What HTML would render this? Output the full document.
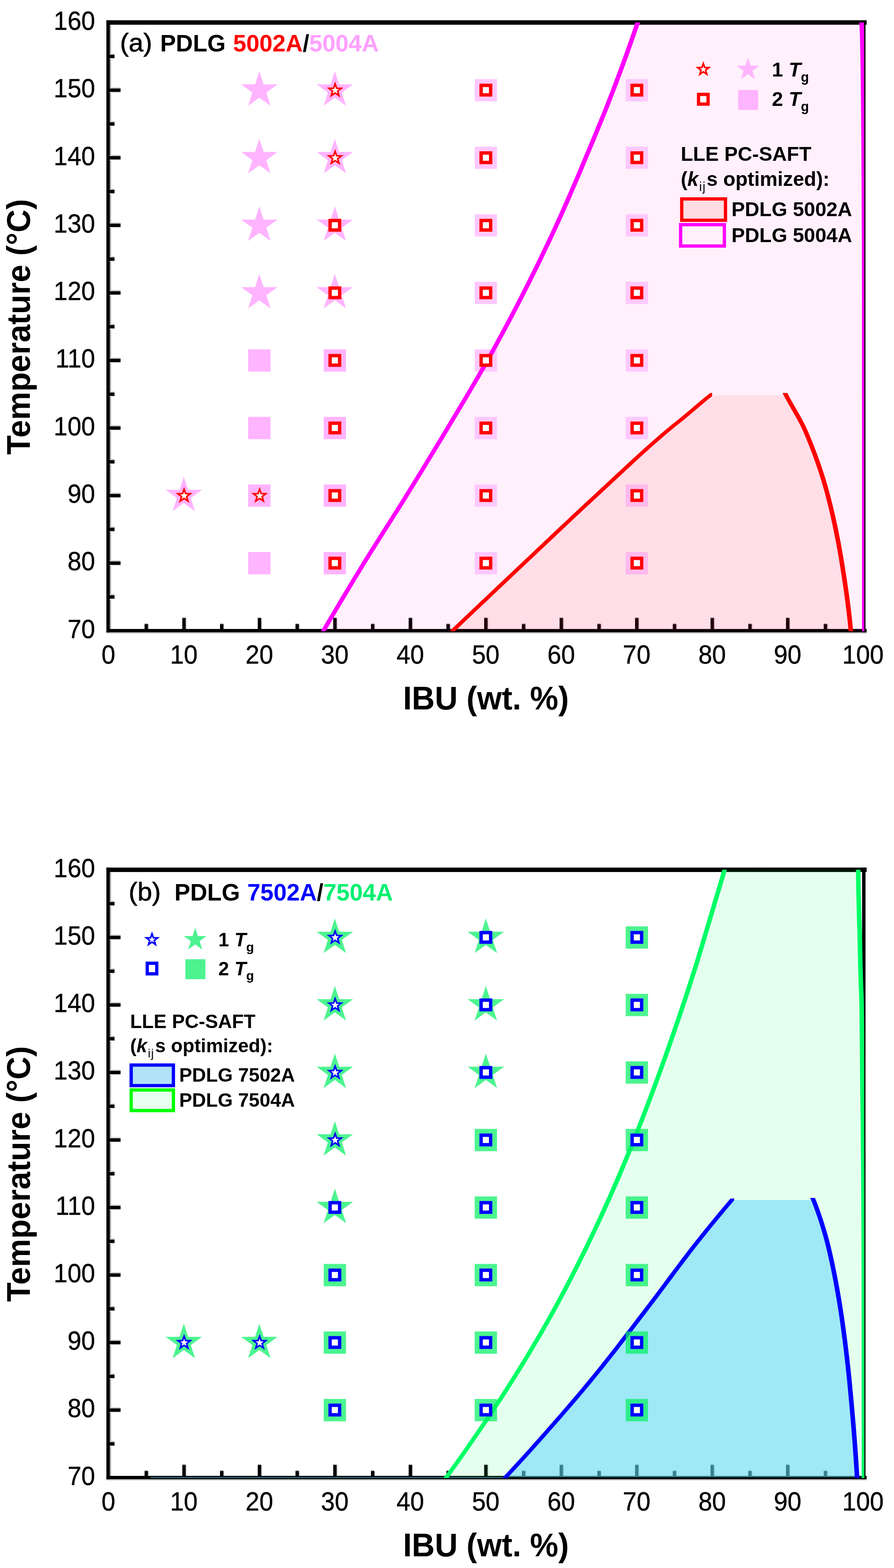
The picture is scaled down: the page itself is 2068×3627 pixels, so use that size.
<!DOCTYPE html>
<html lang="en"><head><meta charset="utf-8"><title>LLE phase diagrams IBU / PDLG</title>
<style>
html,body{margin:0;padding:0;background:#fff}
svg{display:block}
text{white-space:pre}
</style></head>
<body>
<svg xmlns="http://www.w3.org/2000/svg" width="2068" height="3627" viewBox="0 0 2068 3627">
<defs><filter id="soft" x="0" y="0" width="100%" height="100%" filterUnits="userSpaceOnUse" color-interpolation-filters="sRGB"><feGaussianBlur stdDeviation="0.7"/></filter></defs>
<rect width="2068" height="3627" fill="#fff"/>
<g filter="url(#soft)">
<rect width="2068" height="3627" fill="#fff"/>
<g id="plot-a">
<g fill="#000">
<rect x="253.9" y="57.2" width="2.9" height="1397.7" fill="#a4a4a4"/>
<rect x="246.1" y="1462.7" width="1758.6" height="3" fill="#cdcdcd"/>
<rect x="2002" y="57.2" width="2.7" height="1397.7" fill="#ececec"/>
<rect x="253.9" y="1374.16" width="11" height="2.8" fill="#cacaca"/>
<rect x="253.9" y="1384.76" width="11" height="2.5" fill="#ededed"/>
<rect x="252.9" y="1376.91" width="12" height="7.9"/>
<rect x="253.9" y="1296.01" width="24.95" height="2.8" fill="#cacaca"/>
<rect x="253.9" y="1306.61" width="24.95" height="2.5" fill="#ededed"/>
<rect x="252.9" y="1298.76" width="25.95" height="7.9"/>
<rect x="253.9" y="1217.87" width="11" height="2.8" fill="#cacaca"/>
<rect x="253.9" y="1228.47" width="11" height="2.5" fill="#ededed"/>
<rect x="252.9" y="1220.62" width="12" height="7.9"/>
<rect x="253.9" y="1139.72" width="24.95" height="2.8" fill="#cacaca"/>
<rect x="253.9" y="1150.32" width="24.95" height="2.5" fill="#ededed"/>
<rect x="252.9" y="1142.47" width="25.95" height="7.9"/>
<rect x="253.9" y="1061.58" width="11" height="2.8" fill="#cacaca"/>
<rect x="253.9" y="1072.18" width="11" height="2.5" fill="#ededed"/>
<rect x="252.9" y="1064.33" width="12" height="7.9"/>
<rect x="253.9" y="983.43" width="24.95" height="2.8" fill="#cacaca"/>
<rect x="253.9" y="994.03" width="24.95" height="2.5" fill="#ededed"/>
<rect x="252.9" y="986.18" width="25.95" height="7.9"/>
<rect x="253.9" y="905.29" width="11" height="2.8" fill="#cacaca"/>
<rect x="253.9" y="915.89" width="11" height="2.5" fill="#ededed"/>
<rect x="252.9" y="908.04" width="12" height="7.9"/>
<rect x="253.9" y="827.14" width="24.95" height="2.8" fill="#cacaca"/>
<rect x="253.9" y="837.74" width="24.95" height="2.5" fill="#ededed"/>
<rect x="252.9" y="829.89" width="25.95" height="7.9"/>
<rect x="253.9" y="749" width="11" height="2.8" fill="#cacaca"/>
<rect x="253.9" y="759.6" width="11" height="2.5" fill="#ededed"/>
<rect x="252.9" y="751.75" width="12" height="7.9"/>
<rect x="253.9" y="670.86" width="24.95" height="2.8" fill="#cacaca"/>
<rect x="253.9" y="681.46" width="24.95" height="2.5" fill="#ededed"/>
<rect x="252.9" y="673.61" width="25.95" height="7.9"/>
<rect x="253.9" y="592.71" width="11" height="2.8" fill="#cacaca"/>
<rect x="253.9" y="603.31" width="11" height="2.5" fill="#ededed"/>
<rect x="252.9" y="595.46" width="12" height="7.9"/>
<rect x="253.9" y="514.57" width="24.95" height="2.8" fill="#cacaca"/>
<rect x="253.9" y="525.17" width="24.95" height="2.5" fill="#ededed"/>
<rect x="252.9" y="517.32" width="25.95" height="7.9"/>
<rect x="253.9" y="436.42" width="11" height="2.8" fill="#cacaca"/>
<rect x="253.9" y="447.02" width="11" height="2.5" fill="#ededed"/>
<rect x="252.9" y="439.17" width="12" height="7.9"/>
<rect x="253.9" y="358.28" width="24.95" height="2.8" fill="#cacaca"/>
<rect x="253.9" y="368.88" width="24.95" height="2.5" fill="#ededed"/>
<rect x="252.9" y="361.03" width="25.95" height="7.9"/>
<rect x="253.9" y="280.13" width="11" height="2.8" fill="#cacaca"/>
<rect x="253.9" y="290.73" width="11" height="2.5" fill="#ededed"/>
<rect x="252.9" y="282.88" width="12" height="7.9"/>
<rect x="253.9" y="201.99" width="24.95" height="2.8" fill="#cacaca"/>
<rect x="253.9" y="212.59" width="24.95" height="2.5" fill="#ededed"/>
<rect x="252.9" y="204.74" width="25.95" height="7.9"/>
<rect x="253.9" y="123.84" width="11" height="2.8" fill="#cacaca"/>
<rect x="253.9" y="134.44" width="11" height="2.5" fill="#ededed"/>
<rect x="252.9" y="126.59" width="12" height="7.9"/>
<rect x="334.38" y="1442.3" width="7.9" height="1.6" fill="#8a8a8a"/>
<rect x="342.28" y="1443.9" width="1.9" height="11" fill="#c4c4c4"/>
<rect x="334.38" y="1443.9" width="7.9" height="12"/>
<rect x="421.66" y="1428.3" width="7.9" height="1.6" fill="#8a8a8a"/>
<rect x="429.56" y="1429.9" width="1.9" height="25" fill="#c4c4c4"/>
<rect x="421.66" y="1429.9" width="7.9" height="26"/>
<rect x="508.94" y="1442.3" width="7.9" height="1.6" fill="#8a8a8a"/>
<rect x="516.84" y="1443.9" width="1.9" height="11" fill="#c4c4c4"/>
<rect x="508.94" y="1443.9" width="7.9" height="12"/>
<rect x="596.22" y="1428.3" width="7.9" height="1.6" fill="#8a8a8a"/>
<rect x="604.12" y="1429.9" width="1.9" height="25" fill="#c4c4c4"/>
<rect x="596.22" y="1429.9" width="7.9" height="26"/>
<rect x="683.5" y="1442.3" width="7.9" height="1.6" fill="#8a8a8a"/>
<rect x="691.4" y="1443.9" width="1.9" height="11" fill="#c4c4c4"/>
<rect x="683.5" y="1443.9" width="7.9" height="12"/>
<rect x="770.78" y="1428.3" width="7.9" height="1.6" fill="#8a8a8a"/>
<rect x="778.68" y="1429.9" width="1.9" height="25" fill="#c4c4c4"/>
<rect x="770.78" y="1429.9" width="7.9" height="26"/>
<rect x="858.06" y="1442.3" width="7.9" height="1.6" fill="#8a8a8a"/>
<rect x="865.96" y="1443.9" width="1.9" height="11" fill="#c4c4c4"/>
<rect x="858.06" y="1443.9" width="7.9" height="12"/>
<rect x="945.34" y="1428.3" width="7.9" height="1.6" fill="#8a8a8a"/>
<rect x="953.24" y="1429.9" width="1.9" height="25" fill="#c4c4c4"/>
<rect x="945.34" y="1429.9" width="7.9" height="26"/>
<rect x="1032.62" y="1442.3" width="7.9" height="1.6" fill="#8a8a8a"/>
<rect x="1040.52" y="1443.9" width="1.9" height="11" fill="#c4c4c4"/>
<rect x="1032.62" y="1443.9" width="7.9" height="12"/>
<rect x="1119.9" y="1428.3" width="7.9" height="1.6" fill="#8a8a8a"/>
<rect x="1127.8" y="1429.9" width="1.9" height="25" fill="#c4c4c4"/>
<rect x="1119.9" y="1429.9" width="7.9" height="26"/>
<rect x="1207.18" y="1442.3" width="7.9" height="1.6" fill="#8a8a8a"/>
<rect x="1215.08" y="1443.9" width="1.9" height="11" fill="#c4c4c4"/>
<rect x="1207.18" y="1443.9" width="7.9" height="12"/>
<rect x="1294.46" y="1428.3" width="7.9" height="1.6" fill="#8a8a8a"/>
<rect x="1302.36" y="1429.9" width="1.9" height="25" fill="#c4c4c4"/>
<rect x="1294.46" y="1429.9" width="7.9" height="26"/>
<rect x="1381.74" y="1442.3" width="7.9" height="1.6" fill="#8a8a8a"/>
<rect x="1389.64" y="1443.9" width="1.9" height="11" fill="#c4c4c4"/>
<rect x="1381.74" y="1443.9" width="7.9" height="12"/>
<rect x="1469.02" y="1428.3" width="7.9" height="1.6" fill="#8a8a8a"/>
<rect x="1476.92" y="1429.9" width="1.9" height="25" fill="#c4c4c4"/>
<rect x="1469.02" y="1429.9" width="7.9" height="26"/>
<rect x="1556.3" y="1442.3" width="7.9" height="1.6" fill="#8a8a8a"/>
<rect x="1564.2" y="1443.9" width="1.9" height="11" fill="#c4c4c4"/>
<rect x="1556.3" y="1443.9" width="7.9" height="12"/>
<rect x="1643.58" y="1428.3" width="7.9" height="1.6" fill="#8a8a8a"/>
<rect x="1651.48" y="1429.9" width="1.9" height="25" fill="#c4c4c4"/>
<rect x="1643.58" y="1429.9" width="7.9" height="26"/>
<rect x="1730.86" y="1442.3" width="7.9" height="1.6" fill="#8a8a8a"/>
<rect x="1738.76" y="1443.9" width="1.9" height="11" fill="#c4c4c4"/>
<rect x="1730.86" y="1443.9" width="7.9" height="12"/>
<rect x="1818.14" y="1428.3" width="7.9" height="1.6" fill="#8a8a8a"/>
<rect x="1826.04" y="1429.9" width="1.9" height="25" fill="#c4c4c4"/>
<rect x="1818.14" y="1429.9" width="7.9" height="26"/>
<rect x="1905.42" y="1442.3" width="7.9" height="1.6" fill="#8a8a8a"/>
<rect x="1913.32" y="1443.9" width="1.9" height="11" fill="#c4c4c4"/>
<rect x="1905.42" y="1443.9" width="7.9" height="12"/>
<rect x="246.1" y="46.9" width="7.8" height="1415.8"/>
<rect x="1994.2" y="46.9" width="7.8" height="1415.8"/>
<rect x="246.1" y="46.9" width="1758.6" height="10.3"/>
<rect x="246.1" y="1454.9" width="1758.6" height="7.8"/>
</g>
<clipPath id="clipa"><rect x="251.6" y="51.9" width="1747.6" height="1408.3"/></clipPath>
<g clip-path="url(#clipa)">
<path d="M748.3 1457.5L758.7 1441.19L769.17 1423.39L779.7 1405.58L790.3 1387.77L800.95 1369.97L811.68 1352.16L822.46 1334.36L833.31 1316.55L844.22 1298.74L855.26 1280.94L866.42 1263.13L877.68 1245.32L888.99 1227.52L900.32 1209.71L911.63 1191.91L922.89 1174.1L934.05 1156.29L945.1 1138.49L956.09 1120.68L967.04 1102.87L977.95 1085.07L988.82 1067.26L999.65 1049.45L1010.44 1031.65L1021.18 1013.84L1031.88 996.04L1042.56 978.23L1053.24 960.42L1063.92 942.62L1074.56 924.81L1085.15 907L1095.65 889.2L1106.04 871.39L1116.29 853.58L1126.39 835.78L1136.34 817.97L1146.18 800.17L1155.92 782.36L1165.56 764.55L1175.09 746.75L1184.52 728.94L1193.84 711.13L1203.06 693.33L1212.16 675.52L1221.17 657.72L1230.09 639.91L1238.92 622.1L1247.65 604.3L1256.28 586.49L1264.81 568.68L1273.23 550.88L1281.53 533.07L1289.71 515.26L1297.77 497.46L1305.71 479.65L1313.55 461.85L1321.29 444.04L1328.96 426.23L1336.56 408.43L1344.11 390.62L1351.61 372.81L1359.1 355.01L1366.56 337.2L1373.98 319.39L1381.36 301.59L1388.67 283.78L1395.9 265.98L1403.04 248.17L1410.07 230.36L1416.98 212.56L1423.78 194.75L1430.49 176.94L1437.11 159.14L1443.65 141.33L1450.11 123.53L1456.47 105.72L1462.74 87.91L1468.92 70.11L1475 52.3L1993.1 52L1993.97 69.81L1994.61 87.62L1994.99 105.43L1995.34 123.24L1995.66 141.05L1995.94 158.86L1996.2 176.67L1996.43 194.48L1996.65 212.29L1996.84 230.1L1997.02 247.91L1997.18 265.72L1997.32 283.53L1997.46 301.34L1997.59 319.15L1997.71 336.96L1997.82 354.77L1997.94 372.58L1998.05 390.39L1998.16 408.2L1998.26 426.01L1998.35 443.82L1998.45 461.63L1998.53 479.44L1998.61 497.25L1998.68 515.06L1998.74 532.87L1998.8 550.68L1998.84 568.49L1998.88 586.3L1998.91 604.11L1998.93 621.92L1998.95 639.73L1998.97 657.54L1998.99 675.35L1999.01 693.16L1999.03 710.97L1999.04 728.78L1999.06 746.59L1999.07 764.41L1999.09 782.22L1999.1 800.03L1999.11 817.84L1999.12 835.65L1999.13 853.46L1999.14 871.27L1999.15 889.08L1999.16 906.89L1999.17 924.7L1999.18 942.51L1999.19 960.32L1999.19 978.13L1999.2 995.94L1999.2 1013.75L1999.21 1031.56L1999.22 1049.37L1999.22 1067.18L1999.23 1084.99L1999.23 1102.8L1999.24 1120.61L1999.24 1138.42L1999.25 1156.23L1999.26 1174.04L1999.26 1191.85L1999.26 1209.66L1999.27 1227.47L1999.27 1245.28L1999.28 1263.09L1999.28 1280.9L1999.28 1298.71L1999.29 1316.52L1999.29 1334.33L1999.29 1352.14L1999.29 1369.95L1999.3 1387.76L1999.3 1405.57L1999.3 1423.38L1999.3 1441.19L1999.3 1457.5Z" fill="rgba(255,0,190,0.06)"/>
<polygon points="425.26,1102.52 435.18,1133.06 467.3,1133.06 441.32,1151.94 451.24,1182.48 425.26,1163.61 399.28,1182.48 409.2,1151.94 383.22,1133.06 415.34,1133.06" fill="#ffb4ff"/>
<polygon points="599.92,164.79 609.84,195.33 641.96,195.33 615.98,214.21 625.9,244.75 599.92,225.87 573.94,244.75 583.86,214.21 557.88,195.33 590,195.33" fill="#ffb4ff"/>
<polygon points="599.92,321.08 609.84,351.62 641.96,351.62 615.98,370.5 625.9,401.04 599.92,382.16 573.94,401.04 583.86,370.5 557.88,351.62 590,351.62" fill="#ffb4ff"/>
<polygon points="599.92,477.37 609.84,507.91 641.96,507.91 615.98,526.78 625.9,557.33 599.92,538.45 573.94,557.33 583.86,526.78 557.88,507.91 590,507.91" fill="#ffb4ff"/>
<polygon points="599.92,633.66 609.84,664.2 641.96,664.2 615.98,683.07 625.9,713.61 599.92,694.74 573.94,713.61 583.86,683.07 557.88,664.2 590,664.2" fill="#ffb4ff"/>
<rect x="574.12" y="808.04" width="51.6" height="51.6" fill="#ffb4ff"/>
<rect x="574.12" y="964.33" width="51.6" height="51.6" fill="#ffb4ff"/>
<rect x="574.12" y="1120.62" width="51.6" height="51.6" fill="#ffb4ff"/>
<rect x="574.12" y="1276.91" width="51.6" height="51.6" fill="#ffb4ff"/>
<polygon points="774.58,164.79 784.5,195.33 816.62,195.33 790.64,214.21 800.56,244.75 774.58,225.87 748.6,244.75 758.52,214.21 732.54,195.33 764.66,195.33" fill="#ffb4ff"/>
<polygon points="774.58,321.08 784.5,351.62 816.62,351.62 790.64,370.5 800.56,401.04 774.58,382.16 748.6,401.04 758.52,370.5 732.54,351.62 764.66,351.62" fill="#ffb4ff"/>
<polygon points="774.58,477.37 784.5,507.91 816.62,507.91 790.64,526.78 800.56,557.33 774.58,538.45 748.6,557.33 758.52,526.78 732.54,507.91 764.66,507.91" fill="#ffb4ff"/>
<polygon points="774.58,633.66 784.5,664.2 816.62,664.2 790.64,683.07 800.56,713.61 774.58,694.74 748.6,713.61 758.52,683.07 732.54,664.2 764.66,664.2" fill="#ffb4ff"/>
<rect x="748.78" y="808.04" width="51.6" height="51.6" fill="#ffb4ff"/>
<rect x="748.78" y="964.33" width="51.6" height="51.6" fill="#ffb4ff"/>
<rect x="748.78" y="1120.62" width="51.6" height="51.6" fill="#ffb4ff"/>
<rect x="748.78" y="1276.91" width="51.6" height="51.6" fill="#ffb4ff"/>
<rect x="1098.1" y="1276.91" width="51.6" height="51.6" fill="#ffc8ff"/>
<rect x="1098.1" y="1120.62" width="51.6" height="51.6" fill="#ffc8ff"/>
<rect x="1098.1" y="964.33" width="51.6" height="51.6" fill="#ffc8ff"/>
<rect x="1098.1" y="808.04" width="51.6" height="51.6" fill="#ffc8ff"/>
<rect x="1098.1" y="651.76" width="51.6" height="51.6" fill="#ffc8ff"/>
<rect x="1098.1" y="495.47" width="51.6" height="51.6" fill="#ffc8ff"/>
<rect x="1098.1" y="339.18" width="51.6" height="51.6" fill="#ffc8ff"/>
<rect x="1098.1" y="182.89" width="51.6" height="51.6" fill="#ffc8ff"/>
<rect x="1447.42" y="1276.91" width="51.6" height="51.6" fill="#ffc8ff"/>
<rect x="1447.42" y="1120.62" width="51.6" height="51.6" fill="#ffc8ff"/>
<rect x="1447.42" y="964.33" width="51.6" height="51.6" fill="#ffc8ff"/>
<rect x="1447.42" y="808.04" width="51.6" height="51.6" fill="#ffc8ff"/>
<rect x="1447.42" y="651.76" width="51.6" height="51.6" fill="#ffc8ff"/>
<rect x="1447.42" y="495.47" width="51.6" height="51.6" fill="#ffc8ff"/>
<rect x="1447.42" y="339.18" width="51.6" height="51.6" fill="#ffc8ff"/>
<rect x="1447.42" y="182.89" width="51.6" height="51.6" fill="#ffc8ff"/>
<path d="M1047 1457.5L1054.3 1452.06L1061.6 1445.13L1068.91 1438.19L1076.21 1431.25L1083.53 1424.32L1090.84 1417.38L1098.15 1410.44L1105.47 1403.51L1112.79 1396.57L1120.12 1389.63L1127.44 1382.7L1134.77 1375.76L1142.1 1368.82L1149.44 1361.89L1156.77 1354.95L1164.11 1348.01L1171.45 1341.08L1178.8 1334.14L1186.15 1327.2L1193.49 1320.27L1200.85 1313.33L1208.2 1306.39L1215.56 1299.46L1222.91 1292.52L1230.26 1285.58L1237.6 1278.65L1244.94 1271.71L1252.28 1264.77L1259.62 1257.84L1266.96 1250.9L1274.31 1243.96L1281.65 1237.03L1289.01 1230.09L1296.37 1223.15L1303.73 1216.22L1311.11 1209.28L1318.49 1202.34L1325.89 1195.41L1333.3 1188.47L1340.72 1181.53L1348.16 1174.59L1355.61 1167.66L1363.08 1160.72L1370.57 1153.78L1378.08 1146.85L1385.59 1139.91L1393.08 1132.97L1400.54 1126.04L1407.99 1119.1L1415.44 1112.16L1422.88 1105.23L1430.32 1098.29L1437.78 1091.35L1445.24 1084.42L1452.73 1077.48L1460.24 1070.54L1467.79 1063.61L1475.37 1056.67L1483 1049.73L1490.67 1042.8L1498.4 1035.86L1506.19 1028.92L1514.05 1021.99L1521.98 1015.05L1529.99 1008.11L1538.08 1001.18L1546.25 994.24L1554.57 987.3L1563.31 980.37L1572.11 973.43L1580.61 966.49L1588.94 959.56L1597.16 952.62L1605.33 945.68L1613.5 938.75L1621.72 931.81L1630.04 924.87L1638.53 917.94L1638.53 914.5L1819.56 914.5L1823.28 923.41L1827.13 930.37L1831.07 937.32L1835.06 944.28L1839.06 951.23L1843.04 958.19L1846.95 965.15L1850.77 972.1L1854.44 979.06L1857.93 986.01L1861.21 992.97L1864.26 999.92L1867.22 1006.88L1870.12 1013.84L1872.97 1020.79L1875.77 1027.75L1878.52 1034.7L1881.21 1041.66L1883.84 1048.61L1886.43 1055.57L1888.95 1062.53L1891.43 1069.48L1893.84 1076.44L1896.2 1083.39L1898.51 1090.35L1900.76 1097.3L1902.95 1104.26L1905.09 1111.22L1907.16 1118.17L1909.18 1125.13L1911.15 1132.08L1913.05 1139.04L1914.9 1145.99L1916.7 1152.95L1918.46 1159.91L1920.19 1166.86L1921.88 1173.82L1923.54 1180.77L1925.16 1187.73L1926.75 1194.68L1928.31 1201.64L1929.84 1208.59L1931.33 1215.55L1932.79 1222.51L1934.22 1229.46L1935.62 1236.42L1937 1243.37L1938.34 1250.33L1939.65 1257.28L1940.94 1264.24L1942.19 1271.2L1943.42 1278.15L1944.62 1285.11L1945.8 1292.06L1946.95 1299.02L1948.08 1305.97L1949.19 1312.93L1950.29 1319.89L1951.37 1326.84L1952.44 1333.8L1953.49 1340.75L1954.52 1347.71L1955.54 1354.66L1956.54 1361.62L1957.52 1368.58L1958.48 1375.53L1959.42 1382.49L1960.33 1389.44L1961.23 1396.4L1962.1 1403.35L1962.95 1410.31L1963.78 1417.27L1964.58 1424.22L1965.36 1431.18L1966.11 1438.13L1966.83 1445.09L1967.53 1452.04L1968.2 1457.5Z" fill="rgba(255,0,0,0.075)"/>
<path d="M1472.3 52.3L1466.22 70.11L1460.04 87.91L1453.77 105.72L1447.41 123.53L1440.95 141.33L1434.41 159.14L1427.79 176.94L1421.08 194.75L1414.28 212.56L1407.37 230.36L1400.34 248.17L1393.2 265.98L1385.97 283.78L1378.66 301.59L1371.28 319.39L1363.86 337.2L1356.4 355.01L1348.91 372.81L1341.41 390.62L1333.86 408.43L1326.26 426.23L1318.59 444.04L1310.85 461.85L1303.01 479.65L1295.07 497.46L1287.01 515.26L1278.83 533.07L1270.53 550.88L1262.11 568.68L1253.58 586.49L1244.95 604.3L1236.22 622.1L1227.39 639.91L1218.47 657.72L1209.46 675.52L1200.36 693.33L1191.14 711.13L1181.82 728.94L1172.39 746.75L1162.86 764.55L1153.22 782.36L1143.48 800.17L1133.64 817.97L1123.69 835.78L1113.59 853.58L1103.34 871.39L1092.95 889.2L1082.45 907L1071.86 924.81L1061.22 942.62L1050.54 960.42L1039.86 978.23L1029.18 996.04L1018.48 1013.84L1007.74 1031.65L996.95 1049.45L986.12 1067.26L975.25 1085.07L964.34 1102.87L953.39 1120.68L942.4 1138.49L931.35 1156.29L920.19 1174.1L908.93 1191.91L897.62 1209.71L886.29 1227.52L874.98 1245.32L863.72 1263.13L852.56 1280.94L841.52 1298.74L830.61 1316.55L819.76 1334.36L808.98 1352.16L798.25 1369.97L787.6 1387.77L777 1405.58L766.47 1423.39L756 1441.19L745.6 1459L751 1459L761.4 1441.19L771.87 1423.39L782.4 1405.58L793 1387.77L803.65 1369.97L814.38 1352.16L825.16 1334.36L836.01 1316.55L846.92 1298.74L857.96 1280.94L869.12 1263.13L880.38 1245.32L891.69 1227.52L903.02 1209.71L914.33 1191.91L925.59 1174.1L936.75 1156.29L947.8 1138.49L958.79 1120.68L969.74 1102.87L980.65 1085.07L991.52 1067.26L1002.35 1049.45L1013.14 1031.65L1023.88 1013.84L1034.58 996.04L1045.26 978.23L1055.94 960.42L1066.62 942.62L1077.26 924.81L1087.85 907L1098.35 889.2L1108.74 871.39L1118.99 853.58L1129.09 835.78L1139.04 817.97L1148.88 800.17L1158.62 782.36L1168.26 764.55L1177.79 746.75L1187.22 728.94L1196.54 711.13L1205.76 693.33L1214.86 675.52L1223.87 657.72L1232.79 639.91L1241.62 622.1L1250.35 604.3L1258.98 586.49L1267.51 568.68L1275.93 550.88L1284.23 533.07L1292.41 515.26L1300.47 497.46L1308.41 479.65L1316.25 461.85L1323.99 444.04L1331.66 426.23L1339.26 408.43L1346.81 390.62L1354.31 372.81L1361.8 355.01L1369.26 337.2L1376.68 319.39L1384.06 301.59L1391.37 283.78L1398.6 265.98L1405.74 248.17L1412.77 230.36L1419.68 212.56L1426.48 194.75L1433.19 176.94L1439.81 159.14L1446.35 141.33L1452.81 123.53L1459.17 105.72L1465.44 87.91L1471.62 70.11L1477.7 52.3Z" fill="#ff00ff" stroke="#ff00ff" stroke-width="5.2" stroke-linejoin="round"/>
<path d="M1990.4 52L1991.27 69.81L1991.91 87.62L1992.29 105.43L1992.64 123.24L1992.96 141.05L1993.24 158.86L1993.5 176.67L1993.73 194.48L1993.95 212.29L1994.14 230.1L1994.32 247.91L1994.48 265.72L1994.62 283.53L1994.76 301.34L1994.89 319.15L1995.01 336.96L1995.12 354.77L1995.24 372.58L1995.35 390.39L1995.46 408.2L1995.56 426.01L1995.65 443.82L1995.75 461.63L1995.83 479.44L1995.91 497.25L1995.98 515.06L1996.04 532.87L1996.1 550.68L1996.14 568.49L1996.18 586.3L1996.21 604.11L1996.23 621.92L1996.25 639.73L1996.27 657.54L1996.29 675.35L1996.31 693.16L1996.33 710.97L1996.34 728.78L1996.36 746.59L1996.37 764.41L1996.39 782.22L1996.4 800.03L1996.41 817.84L1996.42 835.65L1996.43 853.46L1996.44 871.27L1996.45 889.08L1996.46 906.89L1996.47 924.7L1996.48 942.51L1996.49 960.32L1996.49 978.13L1996.5 995.94L1996.5 1013.75L1996.51 1031.56L1996.52 1049.37L1996.52 1067.18L1996.53 1084.99L1996.53 1102.8L1996.54 1120.61L1996.54 1138.42L1996.55 1156.23L1996.56 1174.04L1996.56 1191.85L1996.56 1209.66L1996.57 1227.47L1996.57 1245.28L1996.58 1263.09L1996.58 1280.9L1996.58 1298.71L1996.59 1316.52L1996.59 1334.33L1996.59 1352.14L1996.59 1369.95L1996.6 1387.76L1996.6 1405.57L1996.6 1423.38L1996.6 1441.19L1996.6 1459L2002 1459L2002 1441.19L2002 1423.38L2002 1405.57L2002 1387.76L2001.99 1369.95L2001.99 1352.14L2001.99 1334.33L2001.99 1316.52L2001.98 1298.71L2001.98 1280.9L2001.98 1263.09L2001.97 1245.28L2001.97 1227.47L2001.96 1209.66L2001.96 1191.85L2001.96 1174.04L2001.95 1156.23L2001.94 1138.42L2001.94 1120.61L2001.93 1102.8L2001.93 1084.99L2001.92 1067.18L2001.92 1049.37L2001.91 1031.56L2001.9 1013.75L2001.9 995.94L2001.89 978.13L2001.89 960.32L2001.88 942.51L2001.87 924.7L2001.86 906.89L2001.85 889.08L2001.84 871.27L2001.83 853.46L2001.82 835.65L2001.81 817.84L2001.8 800.03L2001.79 782.22L2001.77 764.41L2001.76 746.59L2001.74 728.78L2001.73 710.97L2001.71 693.16L2001.69 675.35L2001.67 657.54L2001.65 639.73L2001.63 621.92L2001.61 604.11L2001.58 586.3L2001.54 568.49L2001.5 550.68L2001.44 532.87L2001.38 515.06L2001.31 497.25L2001.23 479.44L2001.15 461.63L2001.05 443.82L2000.96 426.01L2000.86 408.2L2000.75 390.39L2000.64 372.58L2000.52 354.77L2000.41 336.96L2000.29 319.15L2000.16 301.34L2000.02 283.53L1999.88 265.72L1999.72 247.91L1999.54 230.1L1999.35 212.29L1999.13 194.48L1998.9 176.67L1998.64 158.86L1998.36 141.05L1998.04 123.24L1997.69 105.43L1997.31 87.62L1996.67 69.81L1995.8 52Z" fill="#ff00ff" stroke="#ff00ff" stroke-width="5.2" stroke-linejoin="round"/>
<clipPath id="cla"><rect x="0" y="909" width="1647.2" height="3000"/></clipPath>
<path clip-path="url(#cla)" d="M1659.27 899L1650.63 906.09L1641.77 913.18L1632.95 920.27L1624.35 927.35L1615.89 934.44L1607.52 941.53L1599.18 948.62L1590.81 955.71L1582.37 962.8L1573.79 969.89L1564.93 976.97L1555.91 984.06L1547.23 991.15L1538.83 998.24L1530.52 1005.33L1522.31 1012.42L1514.18 1019.51L1506.12 1026.59L1498.14 1033.68L1490.22 1040.77L1482.37 1047.86L1474.56 1054.95L1466.8 1062.04L1459.08 1069.13L1451.4 1076.22L1443.74 1083.3L1436.11 1090.39L1428.49 1097.48L1420.88 1104.57L1413.28 1111.66L1405.67 1118.75L1398.06 1125.84L1390.43 1132.92L1382.78 1140.01L1375.11 1147.1L1367.43 1154.19L1359.78 1161.28L1352.15 1168.37L1344.53 1175.46L1336.94 1182.54L1329.35 1189.63L1321.78 1196.72L1314.23 1203.81L1306.68 1210.9L1299.15 1217.99L1291.62 1225.08L1284.11 1232.16L1276.59 1239.25L1269.09 1246.34L1261.58 1253.43L1254.08 1260.52L1246.58 1267.61L1239.08 1274.7L1231.58 1281.78L1224.07 1288.87L1216.56 1295.96L1209.05 1303.05L1201.53 1310.14L1194.01 1317.23L1186.5 1324.32L1178.99 1331.41L1171.49 1338.49L1163.98 1345.58L1156.48 1352.67L1148.98 1359.76L1141.49 1366.85L1134 1373.94L1126.51 1381.03L1119.02 1388.11L1111.54 1395.2L1104.05 1402.29L1096.58 1409.38L1089.1 1416.47L1081.63 1423.56L1074.15 1430.65L1066.69 1437.73L1059.22 1444.82L1051.76 1451.91L1044.3 1459L1049.7 1459L1057.16 1451.91L1064.62 1444.82L1072.09 1437.73L1079.55 1430.65L1087.03 1423.56L1094.5 1416.47L1101.98 1409.38L1109.45 1402.29L1116.94 1395.2L1124.42 1388.11L1131.91 1381.03L1139.4 1373.94L1146.89 1366.85L1154.38 1359.76L1161.88 1352.67L1169.38 1345.58L1176.89 1338.49L1184.39 1331.41L1191.9 1324.32L1199.41 1317.23L1206.93 1310.14L1214.45 1303.05L1221.96 1295.96L1229.47 1288.87L1236.98 1281.78L1244.48 1274.7L1251.98 1267.61L1259.48 1260.52L1266.98 1253.43L1274.49 1246.34L1281.99 1239.25L1289.51 1232.16L1297.02 1225.08L1304.55 1217.99L1312.08 1210.9L1319.63 1203.81L1327.18 1196.72L1334.75 1189.63L1342.34 1182.54L1349.93 1175.46L1357.55 1168.37L1365.18 1161.28L1372.83 1154.19L1380.51 1147.1L1388.18 1140.01L1395.83 1132.92L1403.46 1125.84L1411.07 1118.75L1418.68 1111.66L1426.28 1104.57L1433.89 1097.48L1441.51 1090.39L1449.14 1083.3L1456.8 1076.22L1464.48 1069.13L1472.2 1062.04L1479.96 1054.95L1487.77 1047.86L1495.62 1040.77L1503.54 1033.68L1511.52 1026.59L1519.58 1019.51L1527.71 1012.42L1535.92 1005.33L1544.23 998.24L1552.63 991.15L1561.31 984.06L1570.33 976.97L1579.19 969.89L1587.77 962.8L1596.21 955.71L1604.58 948.62L1612.92 941.53L1621.29 934.44L1629.75 927.35L1638.35 920.27L1647.17 913.18L1656.03 906.09L1664.67 899Z" fill="#ff0000" stroke="#ff0000" stroke-width="5.2" stroke-linejoin="round"/>
<clipPath id="cra"><rect x="0" y="908.9" width="3000" height="3000"/></clipPath>
<path clip-path="url(#cra)" d="M1809.03 901.5L1812.82 908.56L1816.42 915.61L1820.18 922.67L1824.08 929.73L1828.07 936.78L1832.11 943.84L1836.17 950.9L1840.21 957.96L1844.18 965.01L1848.05 972.07L1851.77 979.13L1855.32 986.18L1858.64 993.24L1861.72 1000.3L1864.72 1007.35L1867.66 1014.41L1870.55 1021.47L1873.38 1028.53L1876.16 1035.58L1878.88 1042.64L1881.55 1049.7L1884.16 1056.75L1886.71 1063.81L1889.21 1070.87L1891.65 1077.92L1894.04 1084.98L1896.36 1092.04L1898.63 1099.09L1900.84 1106.15L1902.99 1113.21L1905.08 1120.27L1907.11 1127.32L1909.08 1134.38L1911 1141.44L1912.85 1148.49L1914.66 1155.55L1916.44 1162.61L1918.17 1169.66L1919.88 1176.72L1921.54 1183.78L1923.18 1190.84L1924.78 1197.89L1926.34 1204.95L1927.87 1212.01L1929.37 1219.06L1930.84 1226.12L1932.28 1233.18L1933.68 1240.23L1935.06 1247.29L1936.4 1254.35L1937.72 1261.41L1939 1268.46L1940.26 1275.52L1941.49 1282.58L1942.69 1289.63L1943.87 1296.69L1945.02 1303.75L1946.15 1310.8L1947.27 1317.86L1948.37 1324.92L1949.46 1331.97L1950.53 1339.03L1951.58 1346.09L1952.62 1353.15L1953.64 1360.2L1954.63 1367.26L1955.61 1374.32L1956.57 1381.37L1957.5 1388.43L1958.41 1395.49L1959.3 1402.54L1960.17 1409.6L1961.01 1416.66L1961.83 1423.72L1962.62 1430.77L1963.38 1437.83L1964.11 1444.89L1964.82 1451.94L1965.5 1459L1970.9 1459L1970.22 1451.94L1969.51 1444.89L1968.78 1437.83L1968.02 1430.77L1967.23 1423.72L1966.41 1416.66L1965.57 1409.6L1964.7 1402.54L1963.81 1395.49L1962.9 1388.43L1961.97 1381.37L1961.01 1374.32L1960.03 1367.26L1959.04 1360.2L1958.02 1353.15L1956.98 1346.09L1955.93 1339.03L1954.86 1331.97L1953.77 1324.92L1952.67 1317.86L1951.55 1310.8L1950.42 1303.75L1949.27 1296.69L1948.09 1289.63L1946.89 1282.58L1945.66 1275.52L1944.4 1268.46L1943.12 1261.41L1941.8 1254.35L1940.46 1247.29L1939.08 1240.23L1937.68 1233.18L1936.24 1226.12L1934.77 1219.06L1933.27 1212.01L1931.74 1204.95L1930.18 1197.89L1928.58 1190.84L1926.94 1183.78L1925.28 1176.72L1923.57 1169.66L1921.84 1162.61L1920.06 1155.55L1918.25 1148.49L1916.4 1141.44L1914.48 1134.38L1912.51 1127.32L1910.48 1120.27L1908.39 1113.21L1906.24 1106.15L1904.03 1099.09L1901.76 1092.04L1899.44 1084.98L1897.05 1077.92L1894.61 1070.87L1892.11 1063.81L1889.56 1056.75L1886.95 1049.7L1884.28 1042.64L1881.56 1035.58L1878.78 1028.53L1875.95 1021.47L1873.06 1014.41L1870.12 1007.35L1867.12 1000.3L1864.04 993.24L1860.72 986.18L1857.17 979.13L1853.45 972.07L1849.58 965.01L1845.61 957.96L1841.57 950.9L1837.51 943.84L1833.47 936.78L1829.48 929.73L1825.58 922.67L1821.82 915.61L1818.22 908.56L1814.43 901.5Z" fill="#ff0000" stroke="#ff0000" stroke-width="5.2" stroke-linejoin="round"/>
</g>
<polygon points="425.86,1131.72 429.47,1141.75 440.13,1142.09 431.71,1148.62 434.68,1158.86 425.86,1152.87 417.04,1158.86 420.01,1148.62 411.59,1142.09 422.25,1141.75" fill="#fff" stroke="#ff0000" stroke-width="3.7"/>
<polygon points="600.52,1131.72 604.13,1141.75 614.79,1142.09 606.37,1148.62 609.34,1158.86 600.52,1152.87 591.7,1158.86 594.67,1148.62 586.25,1142.09 596.91,1141.75" fill="#fff" stroke="#ff0000" stroke-width="3.7"/>
<polygon points="775.18,193.99 778.79,204.01 789.45,204.35 781.03,210.89 784,221.12 775.18,215.14 766.36,221.12 769.33,210.89 760.91,204.35 771.57,204.01" fill="#fff" stroke="#ff0000" stroke-width="3.7"/>
<polygon points="775.18,350.28 778.79,360.3 789.45,360.64 781.03,367.18 784,377.41 775.18,371.43 766.36,377.41 769.33,367.18 760.91,360.64 771.57,360.3" fill="#fff" stroke="#ff0000" stroke-width="3.7"/>
<rect x="763.58" y="1291.51" width="22" height="22" fill="#fff" stroke="#ff0000" stroke-width="7.8"/>
<rect x="763.58" y="1135.22" width="22" height="22" fill="#fff" stroke="#ff0000" stroke-width="7.8"/>
<rect x="763.58" y="978.93" width="22" height="22" fill="#fff" stroke="#ff0000" stroke-width="7.8"/>
<rect x="763.58" y="822.64" width="22" height="22" fill="#fff" stroke="#ff0000" stroke-width="7.8"/>
<rect x="763.58" y="666.36" width="22" height="22" fill="#fff" stroke="#ff0000" stroke-width="7.8"/>
<rect x="763.58" y="510.07" width="22" height="22" fill="#fff" stroke="#ff0000" stroke-width="7.8"/>
<rect x="1112.9" y="1291.51" width="22" height="22" fill="#fff" stroke="#ff0000" stroke-width="7.8"/>
<rect x="1112.9" y="1135.22" width="22" height="22" fill="#fff" stroke="#ff0000" stroke-width="7.8"/>
<rect x="1112.9" y="978.93" width="22" height="22" fill="#fff" stroke="#ff0000" stroke-width="7.8"/>
<rect x="1112.9" y="822.64" width="22" height="22" fill="#fff" stroke="#ff0000" stroke-width="7.8"/>
<rect x="1112.9" y="666.36" width="22" height="22" fill="#fff" stroke="#ff0000" stroke-width="7.8"/>
<rect x="1112.9" y="510.07" width="22" height="22" fill="#fff" stroke="#ff0000" stroke-width="7.8"/>
<rect x="1112.9" y="353.78" width="22" height="22" fill="#fff" stroke="#ff0000" stroke-width="7.8"/>
<rect x="1112.9" y="197.49" width="22" height="22" fill="#fff" stroke="#ff0000" stroke-width="7.8"/>
<rect x="1462.22" y="1291.51" width="22" height="22" fill="#fff" stroke="#ff0000" stroke-width="7.8"/>
<rect x="1462.22" y="1135.22" width="22" height="22" fill="#fff" stroke="#ff0000" stroke-width="7.8"/>
<rect x="1462.22" y="978.93" width="22" height="22" fill="#fff" stroke="#ff0000" stroke-width="7.8"/>
<rect x="1462.22" y="822.64" width="22" height="22" fill="#fff" stroke="#ff0000" stroke-width="7.8"/>
<rect x="1462.22" y="666.36" width="22" height="22" fill="#fff" stroke="#ff0000" stroke-width="7.8"/>
<rect x="1462.22" y="510.07" width="22" height="22" fill="#fff" stroke="#ff0000" stroke-width="7.8"/>
<rect x="1462.22" y="353.78" width="22" height="22" fill="#fff" stroke="#ff0000" stroke-width="7.8"/>
<rect x="1462.22" y="197.49" width="22" height="22" fill="#fff" stroke="#ff0000" stroke-width="7.8"/>
<g font-family="'Liberation Sans', Arial, sans-serif" font-size="57.4" fill="#000" stroke="#000" stroke-width="0.5">
<text transform="translate(220 1475.6) scale(1 1.06)" text-anchor="end">70</text>
<text transform="translate(220 1319.31) scale(1 1.06)" text-anchor="end">80</text>
<text transform="translate(220 1163.02) scale(1 1.06)" text-anchor="end">90</text>
<text transform="translate(220 1006.73) scale(1 1.06)" text-anchor="end">100</text>
<text transform="translate(220 850.44) scale(1 1.06)" text-anchor="end">110</text>
<text transform="translate(220 694.16) scale(1 1.06)" text-anchor="end">120</text>
<text transform="translate(220 537.87) scale(1 1.06)" text-anchor="end">130</text>
<text transform="translate(220 381.58) scale(1 1.06)" text-anchor="end">140</text>
<text transform="translate(220 225.29) scale(1 1.06)" text-anchor="end">150</text>
<text transform="translate(220 69) scale(1 1.06)" text-anchor="end">160</text>
<text transform="translate(250.8 1535) scale(1 1.06)" text-anchor="middle">0</text>
<text transform="translate(425.36 1535) scale(1 1.06)" text-anchor="middle">10</text>
<text transform="translate(599.92 1535) scale(1 1.06)" text-anchor="middle">20</text>
<text transform="translate(774.48 1535) scale(1 1.06)" text-anchor="middle">30</text>
<text transform="translate(949.04 1535) scale(1 1.06)" text-anchor="middle">40</text>
<text transform="translate(1123.6 1535) scale(1 1.06)" text-anchor="middle">50</text>
<text transform="translate(1298.16 1535) scale(1 1.06)" text-anchor="middle">60</text>
<text transform="translate(1472.72 1535) scale(1 1.06)" text-anchor="middle">70</text>
<text transform="translate(1647.28 1535) scale(1 1.06)" text-anchor="middle">80</text>
<text transform="translate(1821.84 1535) scale(1 1.06)" text-anchor="middle">90</text>
<text transform="translate(1996.4 1535) scale(1 1.06)" text-anchor="middle">100</text>
</g>
<g font-family="'Liberation Sans', Arial, sans-serif" font-weight="bold" font-size="73.5" fill="#000">
<text transform="translate(1124 1641) scale(1 1.04)" text-anchor="middle">IBU (wt. %)</text>
<text transform="translate(68.8 756) rotate(-90) scale(1 1.04)" text-anchor="middle">Temperature (°C)</text>
</g>
<g font-family="'Liberation Sans', Arial, sans-serif" fill="#000">
<text transform="translate(277.5 119.1) scale(1 0.98)" font-size="61"><tspan stroke="#000" stroke-width="0.9">(a)</tspan></text>
<text transform="translate(370.4 119.1) scale(1 1.02)" font-size="54.6" font-weight="bold">PDLG</text>
<text transform="translate(539.3 119.1) scale(1 1.02)" font-size="54.6" font-weight="bold"><tspan fill="#ff0000">5002A</tspan>/<tspan fill="#ffa0ff">5004A</tspan></text>
</g>
<polygon points="1626.9,147 1630.18,156.09 1639.83,156.4 1632.2,162.32 1634.89,171.6 1626.9,166.18 1618.91,171.6 1621.6,162.32 1613.97,156.4 1623.62,156.09" fill="#fff" stroke="#ff0000" stroke-width="3.8"/>
<polygon points="1730.2,133.1 1736.42,152.24 1756.54,152.24 1740.26,164.07 1746.48,183.21 1730.2,171.38 1713.92,183.21 1720.14,164.07 1703.86,152.24 1723.98,152.24" fill="#ffb4ff"/>
<rect x="1615.9" y="218.4" width="22" height="22.4" fill="#fff" stroke="#ff0000" stroke-width="7.6"/>
<rect x="1707.5" y="208.1" width="46.2" height="46.2" fill="#ffb4ff"/>
<g font-family="'Liberation Sans', Arial, sans-serif" font-weight="bold" font-size="46.5" fill="#000">
<text transform="translate(1785.4 176.8) scale(1 1)">1 <tspan font-style="italic">T</tspan><tspan font-size="30.69" dy="12.09">g</tspan></text>
<text transform="translate(1785.4 245.3) scale(1 1)">2 <tspan font-style="italic">T</tspan><tspan font-size="30.69" dy="12.09">g</tspan></text>
<text transform="translate(1574.7 371.6) scale(1 1)">LLE PC-SAFT</text>
<text transform="translate(1574.7 430.1) scale(1 1)" font-size="46.13">(<tspan font-style="italic">k</tspan><tspan font-size="28.83" font-weight="normal" dy="12.09" dx="1.5" letter-spacing="1.5">ij</tspan><tspan dy="-12.09" dx="1.5">s optimized):</tspan></text>
<text transform="translate(1691.9 499.6) scale(1 1)">PDLG 5002A</text>
<text transform="translate(1691.9 559.6) scale(1 1)">PDLG 5004A</text>
</g>
<rect x="1577" y="460.1" width="101.2" height="49.4" fill="#ffdde3" stroke="#ff0000" stroke-width="7.6"/>
<rect x="1574.4" y="519.7" width="101.2" height="49.4" fill="#fff0fa" stroke="#ff00ff" stroke-width="7.6"/>
</g>
<g id="plot-b">
<g fill="#000">
<rect x="253.9" y="2017.1" width="2.9" height="1396.8" fill="#a4a4a4"/>
<rect x="246.1" y="3421.7" width="1758.6" height="3" fill="#cdcdcd"/>
<rect x="2002" y="2017.1" width="2.7" height="1396.8" fill="#ececec"/>
<rect x="253.9" y="3333.21" width="11" height="2.8" fill="#cacaca"/>
<rect x="253.9" y="3343.81" width="11" height="2.5" fill="#ededed"/>
<rect x="252.9" y="3335.96" width="12" height="7.9"/>
<rect x="253.9" y="3255.11" width="24.95" height="2.8" fill="#cacaca"/>
<rect x="253.9" y="3265.71" width="24.95" height="2.5" fill="#ededed"/>
<rect x="252.9" y="3257.86" width="25.95" height="7.9"/>
<rect x="253.9" y="3177.02" width="11" height="2.8" fill="#cacaca"/>
<rect x="253.9" y="3187.62" width="11" height="2.5" fill="#ededed"/>
<rect x="252.9" y="3179.77" width="12" height="7.9"/>
<rect x="253.9" y="3098.92" width="24.95" height="2.8" fill="#cacaca"/>
<rect x="253.9" y="3109.52" width="24.95" height="2.5" fill="#ededed"/>
<rect x="252.9" y="3101.67" width="25.95" height="7.9"/>
<rect x="253.9" y="3020.83" width="11" height="2.8" fill="#cacaca"/>
<rect x="253.9" y="3031.43" width="11" height="2.5" fill="#ededed"/>
<rect x="252.9" y="3023.58" width="12" height="7.9"/>
<rect x="253.9" y="2942.73" width="24.95" height="2.8" fill="#cacaca"/>
<rect x="253.9" y="2953.33" width="24.95" height="2.5" fill="#ededed"/>
<rect x="252.9" y="2945.48" width="25.95" height="7.9"/>
<rect x="253.9" y="2864.64" width="11" height="2.8" fill="#cacaca"/>
<rect x="253.9" y="2875.24" width="11" height="2.5" fill="#ededed"/>
<rect x="252.9" y="2867.39" width="12" height="7.9"/>
<rect x="253.9" y="2786.54" width="24.95" height="2.8" fill="#cacaca"/>
<rect x="253.9" y="2797.14" width="24.95" height="2.5" fill="#ededed"/>
<rect x="252.9" y="2789.29" width="25.95" height="7.9"/>
<rect x="253.9" y="2708.45" width="11" height="2.8" fill="#cacaca"/>
<rect x="253.9" y="2719.05" width="11" height="2.5" fill="#ededed"/>
<rect x="252.9" y="2711.2" width="12" height="7.9"/>
<rect x="253.9" y="2630.36" width="24.95" height="2.8" fill="#cacaca"/>
<rect x="253.9" y="2640.96" width="24.95" height="2.5" fill="#ededed"/>
<rect x="252.9" y="2633.11" width="25.95" height="7.9"/>
<rect x="253.9" y="2552.26" width="11" height="2.8" fill="#cacaca"/>
<rect x="253.9" y="2562.86" width="11" height="2.5" fill="#ededed"/>
<rect x="252.9" y="2555.01" width="12" height="7.9"/>
<rect x="253.9" y="2474.17" width="24.95" height="2.8" fill="#cacaca"/>
<rect x="253.9" y="2484.77" width="24.95" height="2.5" fill="#ededed"/>
<rect x="252.9" y="2476.92" width="25.95" height="7.9"/>
<rect x="253.9" y="2396.07" width="11" height="2.8" fill="#cacaca"/>
<rect x="253.9" y="2406.67" width="11" height="2.5" fill="#ededed"/>
<rect x="252.9" y="2398.82" width="12" height="7.9"/>
<rect x="253.9" y="2317.98" width="24.95" height="2.8" fill="#cacaca"/>
<rect x="253.9" y="2328.58" width="24.95" height="2.5" fill="#ededed"/>
<rect x="252.9" y="2320.73" width="25.95" height="7.9"/>
<rect x="253.9" y="2239.88" width="11" height="2.8" fill="#cacaca"/>
<rect x="253.9" y="2250.48" width="11" height="2.5" fill="#ededed"/>
<rect x="252.9" y="2242.63" width="12" height="7.9"/>
<rect x="253.9" y="2161.79" width="24.95" height="2.8" fill="#cacaca"/>
<rect x="253.9" y="2172.39" width="24.95" height="2.5" fill="#ededed"/>
<rect x="252.9" y="2164.54" width="25.95" height="7.9"/>
<rect x="253.9" y="2083.69" width="11" height="2.8" fill="#cacaca"/>
<rect x="253.9" y="2094.29" width="11" height="2.5" fill="#ededed"/>
<rect x="252.9" y="2086.44" width="12" height="7.9"/>
<rect x="334.38" y="3401.3" width="7.9" height="1.6" fill="#8a8a8a"/>
<rect x="342.28" y="3402.9" width="1.9" height="11" fill="#c4c4c4"/>
<rect x="334.38" y="3402.9" width="7.9" height="12"/>
<rect x="421.66" y="3387.3" width="7.9" height="1.6" fill="#8a8a8a"/>
<rect x="429.56" y="3388.9" width="1.9" height="25" fill="#c4c4c4"/>
<rect x="421.66" y="3388.9" width="7.9" height="26"/>
<rect x="508.94" y="3401.3" width="7.9" height="1.6" fill="#8a8a8a"/>
<rect x="516.84" y="3402.9" width="1.9" height="11" fill="#c4c4c4"/>
<rect x="508.94" y="3402.9" width="7.9" height="12"/>
<rect x="596.22" y="3387.3" width="7.9" height="1.6" fill="#8a8a8a"/>
<rect x="604.12" y="3388.9" width="1.9" height="25" fill="#c4c4c4"/>
<rect x="596.22" y="3388.9" width="7.9" height="26"/>
<rect x="683.5" y="3401.3" width="7.9" height="1.6" fill="#8a8a8a"/>
<rect x="691.4" y="3402.9" width="1.9" height="11" fill="#c4c4c4"/>
<rect x="683.5" y="3402.9" width="7.9" height="12"/>
<rect x="770.78" y="3387.3" width="7.9" height="1.6" fill="#8a8a8a"/>
<rect x="778.68" y="3388.9" width="1.9" height="25" fill="#c4c4c4"/>
<rect x="770.78" y="3388.9" width="7.9" height="26"/>
<rect x="858.06" y="3401.3" width="7.9" height="1.6" fill="#8a8a8a"/>
<rect x="865.96" y="3402.9" width="1.9" height="11" fill="#c4c4c4"/>
<rect x="858.06" y="3402.9" width="7.9" height="12"/>
<rect x="945.34" y="3387.3" width="7.9" height="1.6" fill="#8a8a8a"/>
<rect x="953.24" y="3388.9" width="1.9" height="25" fill="#c4c4c4"/>
<rect x="945.34" y="3388.9" width="7.9" height="26"/>
<rect x="1032.62" y="3401.3" width="7.9" height="1.6" fill="#8a8a8a"/>
<rect x="1040.52" y="3402.9" width="1.9" height="11" fill="#c4c4c4"/>
<rect x="1032.62" y="3402.9" width="7.9" height="12"/>
<rect x="1119.9" y="3387.3" width="7.9" height="1.6" fill="#8a8a8a"/>
<rect x="1127.8" y="3388.9" width="1.9" height="25" fill="#c4c4c4"/>
<rect x="1119.9" y="3388.9" width="7.9" height="26"/>
<rect x="1207.18" y="3401.3" width="7.9" height="1.6" fill="#8a8a8a"/>
<rect x="1215.08" y="3402.9" width="1.9" height="11" fill="#c4c4c4"/>
<rect x="1207.18" y="3402.9" width="7.9" height="12"/>
<rect x="1294.46" y="3387.3" width="7.9" height="1.6" fill="#8a8a8a"/>
<rect x="1302.36" y="3388.9" width="1.9" height="25" fill="#c4c4c4"/>
<rect x="1294.46" y="3388.9" width="7.9" height="26"/>
<rect x="1381.74" y="3401.3" width="7.9" height="1.6" fill="#8a8a8a"/>
<rect x="1389.64" y="3402.9" width="1.9" height="11" fill="#c4c4c4"/>
<rect x="1381.74" y="3402.9" width="7.9" height="12"/>
<rect x="1469.02" y="3387.3" width="7.9" height="1.6" fill="#8a8a8a"/>
<rect x="1476.92" y="3388.9" width="1.9" height="25" fill="#c4c4c4"/>
<rect x="1469.02" y="3388.9" width="7.9" height="26"/>
<rect x="1556.3" y="3401.3" width="7.9" height="1.6" fill="#8a8a8a"/>
<rect x="1564.2" y="3402.9" width="1.9" height="11" fill="#c4c4c4"/>
<rect x="1556.3" y="3402.9" width="7.9" height="12"/>
<rect x="1643.58" y="3387.3" width="7.9" height="1.6" fill="#8a8a8a"/>
<rect x="1651.48" y="3388.9" width="1.9" height="25" fill="#c4c4c4"/>
<rect x="1643.58" y="3388.9" width="7.9" height="26"/>
<rect x="1730.86" y="3401.3" width="7.9" height="1.6" fill="#8a8a8a"/>
<rect x="1738.76" y="3402.9" width="1.9" height="11" fill="#c4c4c4"/>
<rect x="1730.86" y="3402.9" width="7.9" height="12"/>
<rect x="1818.14" y="3387.3" width="7.9" height="1.6" fill="#8a8a8a"/>
<rect x="1826.04" y="3388.9" width="1.9" height="25" fill="#c4c4c4"/>
<rect x="1818.14" y="3388.9" width="7.9" height="26"/>
<rect x="1905.42" y="3401.3" width="7.9" height="1.6" fill="#8a8a8a"/>
<rect x="1913.32" y="3402.9" width="1.9" height="11" fill="#c4c4c4"/>
<rect x="1905.42" y="3402.9" width="7.9" height="12"/>
<rect x="246.1" y="2006.8" width="7.8" height="1414.9"/>
<rect x="1994.2" y="2006.8" width="7.8" height="1414.9"/>
<rect x="246.1" y="2006.8" width="1758.6" height="10.3"/>
<rect x="246.1" y="3413.9" width="1758.6" height="7.8"/>
</g>
<clipPath id="clipb"><rect x="251.6" y="2011.8" width="1747.6" height="1407.2"/></clipPath>
<g clip-path="url(#clipb)">
<path d="M1031.6 3416.7L1044.52 3400.7L1057.33 3382.9L1069.98 3365.1L1082.45 3347.31L1094.72 3329.51L1106.91 3311.71L1119.01 3293.91L1131.01 3276.11L1142.88 3258.31L1154.63 3240.51L1166.21 3222.71L1177.63 3204.92L1188.85 3187.12L1199.91 3169.32L1210.83 3151.52L1221.62 3133.72L1232.27 3115.92L1242.78 3098.12L1253.13 3080.32L1263.32 3062.53L1273.34 3044.73L1283.19 3026.93L1292.88 3009.13L1302.42 2991.33L1311.81 2973.53L1321.07 2955.73L1330.19 2937.93L1339.18 2920.14L1348.04 2902.34L1356.77 2884.54L1365.38 2866.74L1373.87 2848.94L1382.24 2831.14L1390.5 2813.34L1398.64 2795.54L1406.66 2777.75L1414.58 2759.95L1422.38 2742.15L1430.08 2724.35L1437.66 2706.55L1445.14 2688.75L1452.51 2670.95L1459.78 2653.15L1466.96 2635.36L1474.05 2617.56L1481.05 2599.76L1487.98 2581.96L1494.83 2564.16L1501.6 2546.36L1508.3 2528.56L1514.92 2510.76L1521.46 2492.97L1527.93 2475.17L1534.33 2457.37L1540.67 2439.57L1546.94 2421.77L1553.16 2403.97L1559.33 2386.17L1565.44 2368.37L1571.5 2350.58L1577.5 2332.78L1583.44 2314.98L1589.31 2297.18L1595.12 2279.38L1600.85 2261.58L1606.52 2243.78L1612.09 2225.98L1617.56 2208.19L1622.97 2190.39L1628.31 2172.59L1633.62 2154.79L1638.91 2136.99L1644.19 2119.19L1649.49 2101.39L1654.82 2083.59L1660.13 2065.8L1665.43 2048L1670.72 2030.2L1676 2012.4L1985.2 2012L1985.45 2029.8L1985.74 2047.61L1986.07 2065.41L1986.43 2083.22L1986.87 2101.02L1987.37 2118.82L1987.88 2136.63L1988.39 2154.43L1988.86 2172.23L1989.28 2190.04L1989.67 2207.84L1990.07 2225.65L1990.49 2243.45L1990.95 2261.25L1991.52 2279.06L1992.3 2296.86L1992.85 2314.66L1993.15 2332.47L1993.4 2350.27L1993.61 2368.08L1993.79 2385.88L1993.95 2403.68L1994.1 2421.49L1994.25 2439.29L1994.42 2457.09L1994.61 2474.9L1994.81 2492.7L1995.02 2510.51L1995.23 2528.31L1995.45 2546.11L1995.66 2563.92L1995.87 2581.72L1996.07 2599.53L1996.27 2617.33L1996.45 2635.13L1996.62 2652.94L1996.78 2670.74L1996.92 2688.54L1997.03 2706.35L1997.14 2724.15L1997.25 2741.96L1997.36 2759.76L1997.46 2777.56L1997.56 2795.37L1997.65 2813.17L1997.74 2830.97L1997.83 2848.78L1997.91 2866.58L1997.98 2884.39L1998.05 2902.19L1998.11 2919.99L1998.17 2937.8L1998.22 2955.6L1998.26 2973.41L1998.29 2991.21L1998.31 3009.01L1998.33 3026.82L1998.36 3044.62L1998.38 3062.42L1998.4 3080.23L1998.42 3098.03L1998.43 3115.84L1998.45 3133.64L1998.47 3151.44L1998.48 3169.25L1998.5 3187.05L1998.51 3204.85L1998.53 3222.66L1998.54 3240.46L1998.55 3258.27L1998.56 3276.07L1998.57 3293.87L1998.58 3311.68L1998.58 3329.48L1998.59 3347.28L1998.59 3365.09L1998.6 3382.89L1998.6 3400.7L1998.6 3416.7Z" fill="rgba(0,255,102,0.1)"/>
<polygon points="425.26,3061.72 435.18,3092.26 467.3,3092.26 441.32,3111.14 451.24,3141.68 425.26,3122.81 399.28,3141.68 409.2,3111.14 383.22,3092.26 415.34,3092.26" fill="none"/>
<polygon points="599.92,3061.72 609.84,3092.26 641.96,3092.26 615.98,3111.14 625.9,3141.68 599.92,3122.81 573.94,3141.68 583.86,3111.14 557.88,3092.26 590,3092.26" fill="none"/>
<polygon points="774.58,2124.59 784.5,2155.13 816.62,2155.13 790.64,2174.01 800.56,2204.55 774.58,2185.67 748.6,2204.55 758.52,2174.01 732.54,2155.13 764.66,2155.13" fill="none"/>
<polygon points="774.58,2280.78 784.5,2311.32 816.62,2311.32 790.64,2330.2 800.56,2360.74 774.58,2341.86 748.6,2360.74 758.52,2330.2 732.54,2311.32 764.66,2311.32" fill="none"/>
<polygon points="774.58,2436.97 784.5,2467.51 816.62,2467.51 790.64,2486.38 800.56,2516.93 774.58,2498.05 748.6,2516.93 758.52,2486.38 732.54,2467.51 764.66,2467.51" fill="none"/>
<polygon points="774.58,2593.16 784.5,2623.7 816.62,2623.7 790.64,2642.57 800.56,2673.11 774.58,2654.24 748.6,2673.11 758.52,2642.57 732.54,2623.7 764.66,2623.7" fill="none"/>
<polygon points="774.58,2749.34 784.5,2779.88 816.62,2779.89 790.64,2798.76 800.56,2829.3 774.58,2810.43 748.6,2829.3 758.52,2798.76 732.54,2779.89 764.66,2779.88" fill="none"/>
<rect x="748.78" y="2923.63" width="51.6" height="51.6" fill="none"/>
<rect x="748.78" y="3079.82" width="51.6" height="51.6" fill="none"/>
<rect x="748.78" y="3236.01" width="51.6" height="51.6" fill="none"/>
<polygon points="1123.9,2124.59 1133.82,2155.13 1165.94,2155.13 1139.96,2174.01 1149.88,2204.55 1123.9,2185.67 1097.92,2204.55 1107.84,2174.01 1081.86,2155.13 1113.98,2155.13" fill="none"/>
<polygon points="1123.9,2280.78 1133.82,2311.32 1165.94,2311.32 1139.96,2330.2 1149.88,2360.74 1123.9,2341.86 1097.92,2360.74 1107.84,2330.2 1081.86,2311.32 1113.98,2311.32" fill="none"/>
<polygon points="1123.9,2436.97 1133.82,2467.51 1165.94,2467.51 1139.96,2486.38 1149.88,2516.93 1123.9,2498.05 1097.92,2516.93 1107.84,2486.38 1081.86,2467.51 1113.98,2467.51" fill="none"/>
<rect x="1098.1" y="2611.26" width="51.6" height="51.6" fill="none"/>
<rect x="1098.1" y="2767.44" width="51.6" height="51.6" fill="none"/>
<rect x="1098.1" y="2923.63" width="51.6" height="51.6" fill="none"/>
<rect x="1098.1" y="3079.82" width="51.6" height="51.6" fill="none"/>
<rect x="1098.1" y="3236.01" width="51.6" height="51.6" fill="none"/>
<rect x="1447.42" y="3236.01" width="51.6" height="51.6" fill="none"/>
<rect x="1447.42" y="3079.82" width="51.6" height="51.6" fill="none"/>
<rect x="1447.42" y="2923.63" width="51.6" height="51.6" fill="none"/>
<rect x="1447.42" y="2767.44" width="51.6" height="51.6" fill="none"/>
<rect x="1447.42" y="2611.26" width="51.6" height="51.6" fill="none"/>
<rect x="1447.42" y="2455.07" width="51.6" height="51.6" fill="none"/>
<rect x="1447.42" y="2298.88" width="51.6" height="51.6" fill="none"/>
<rect x="1447.42" y="2142.69" width="51.6" height="51.6" fill="none"/>
<path d="M1168 3416.7L1175.59 3410.35L1183.15 3402.21L1190.69 3394.06L1198.2 3385.92L1205.67 3377.77L1213.11 3369.63L1220.51 3361.48L1227.86 3353.34L1235.17 3345.19L1242.43 3337.04L1249.67 3328.9L1256.89 3320.75L1264.09 3312.61L1271.28 3304.46L1278.44 3296.32L1285.58 3288.17L1292.7 3280.03L1299.79 3271.88L1306.85 3263.73L1313.88 3255.59L1320.88 3247.44L1327.85 3239.3L1334.78 3231.15L1341.67 3223.01L1348.52 3214.86L1355.34 3206.72L1362.1 3198.57L1368.83 3190.42L1375.51 3182.28L1382.13 3174.13L1388.71 3165.99L1395.23 3157.84L1401.71 3149.7L1408.16 3141.55L1414.56 3133.41L1420.93 3125.26L1427.27 3117.11L1433.58 3108.97L1439.88 3100.82L1446.15 3092.68L1452.41 3084.53L1458.65 3076.39L1464.89 3068.24L1471.12 3060.09L1477.35 3051.95L1483.58 3043.8L1489.82 3035.66L1496.07 3027.51L1502.3 3019.37L1508.49 3011.22L1514.64 3003.08L1520.77 2994.93L1526.87 2986.78L1532.95 2978.64L1539.02 2970.49L1545.09 2962.35L1551.15 2954.2L1557.22 2946.06L1563.31 2937.91L1569.41 2929.77L1575.54 2921.62L1581.7 2913.47L1587.89 2905.33L1594.13 2897.18L1600.42 2889.04L1606.76 2880.89L1613.16 2872.75L1619.62 2864.6L1626.13 2856.46L1632.69 2848.31L1639.29 2840.16L1645.94 2832.02L1652.63 2823.87L1659.36 2815.73L1666.12 2807.58L1672.92 2799.44L1679.75 2791.29L1686.61 2783.15L1686.61 2776L1883.57 2776L1886.65 2788.37L1889.64 2796.55L1892.55 2804.73L1895.37 2812.92L1898.11 2821.1L1900.76 2829.28L1903.32 2837.47L1905.79 2845.65L1908.18 2853.84L1910.47 2862.02L1912.68 2870.2L1914.79 2878.39L1916.81 2886.57L1918.74 2894.75L1920.61 2902.94L1922.44 2911.12L1924.22 2919.3L1925.96 2927.49L1927.66 2935.67L1929.31 2943.85L1930.92 2952.04L1932.5 2960.22L1934.03 2968.41L1935.53 2976.59L1936.99 2984.77L1938.41 2992.96L1939.8 3001.14L1941.16 3009.32L1942.49 3017.51L1943.78 3025.69L1945.04 3033.87L1946.27 3042.06L1947.48 3050.24L1948.65 3058.42L1949.8 3066.61L1950.93 3074.79L1952.03 3082.97L1953.11 3091.16L1954.16 3099.34L1955.19 3107.53L1956.2 3115.71L1957.18 3123.89L1958.15 3132.08L1959.09 3140.26L1960.01 3148.44L1960.92 3156.63L1961.8 3164.81L1962.67 3172.99L1963.51 3181.18L1964.34 3189.36L1965.16 3197.54L1965.95 3205.73L1966.73 3213.91L1967.49 3222.09L1968.25 3230.28L1969 3238.46L1969.73 3246.65L1970.46 3254.83L1971.19 3263.01L1971.9 3271.2L1972.6 3279.38L1973.29 3287.56L1973.97 3295.75L1974.64 3303.93L1975.3 3312.11L1975.94 3320.3L1976.58 3328.48L1977.2 3336.66L1977.81 3344.85L1978.4 3353.03L1978.98 3361.22L1979.54 3369.4L1980.09 3377.58L1980.63 3385.77L1981.15 3393.95L1981.65 3402.13L1982.13 3410.32L1982.6 3416.7Z" fill="rgba(100,215,250,0.55)"/>
<rect x="348.5" y="3416.7" width="819.5" height="2.4" fill="rgba(70,190,220,0.62)"/>
<path d="M1673.3 2012.4L1668.02 2030.2L1662.73 2048L1657.43 2065.8L1652.12 2083.59L1646.79 2101.39L1641.49 2119.19L1636.21 2136.99L1630.92 2154.79L1625.61 2172.59L1620.27 2190.39L1614.86 2208.19L1609.39 2225.98L1603.82 2243.78L1598.15 2261.58L1592.42 2279.38L1586.61 2297.18L1580.74 2314.98L1574.8 2332.78L1568.8 2350.58L1562.74 2368.37L1556.63 2386.17L1550.46 2403.97L1544.24 2421.77L1537.97 2439.57L1531.63 2457.37L1525.23 2475.17L1518.76 2492.97L1512.22 2510.76L1505.6 2528.56L1498.9 2546.36L1492.13 2564.16L1485.28 2581.96L1478.35 2599.76L1471.35 2617.56L1464.26 2635.36L1457.08 2653.15L1449.81 2670.95L1442.44 2688.75L1434.96 2706.55L1427.38 2724.35L1419.68 2742.15L1411.88 2759.95L1403.96 2777.75L1395.94 2795.54L1387.8 2813.34L1379.54 2831.14L1371.17 2848.94L1362.68 2866.74L1354.07 2884.54L1345.34 2902.34L1336.48 2920.14L1327.49 2937.93L1318.37 2955.73L1309.11 2973.53L1299.72 2991.33L1290.18 3009.13L1280.49 3026.93L1270.64 3044.73L1260.62 3062.53L1250.43 3080.32L1240.08 3098.12L1229.57 3115.92L1218.92 3133.72L1208.13 3151.52L1197.21 3169.32L1186.15 3187.12L1174.93 3204.92L1163.51 3222.71L1151.93 3240.51L1140.18 3258.31L1128.31 3276.11L1116.31 3293.91L1104.21 3311.71L1092.02 3329.51L1079.75 3347.31L1067.28 3365.1L1054.63 3382.9L1041.82 3400.7L1028.9 3418.5L1034.3 3418.5L1047.22 3400.7L1060.03 3382.9L1072.68 3365.1L1085.15 3347.31L1097.42 3329.51L1109.61 3311.71L1121.71 3293.91L1133.71 3276.11L1145.58 3258.31L1157.33 3240.51L1168.91 3222.71L1180.33 3204.92L1191.55 3187.12L1202.61 3169.32L1213.53 3151.52L1224.32 3133.72L1234.97 3115.92L1245.48 3098.12L1255.83 3080.32L1266.02 3062.53L1276.04 3044.73L1285.89 3026.93L1295.58 3009.13L1305.12 2991.33L1314.51 2973.53L1323.77 2955.73L1332.89 2937.93L1341.88 2920.14L1350.74 2902.34L1359.47 2884.54L1368.08 2866.74L1376.57 2848.94L1384.94 2831.14L1393.2 2813.34L1401.34 2795.54L1409.36 2777.75L1417.28 2759.95L1425.08 2742.15L1432.78 2724.35L1440.36 2706.55L1447.84 2688.75L1455.21 2670.95L1462.48 2653.15L1469.66 2635.36L1476.75 2617.56L1483.75 2599.76L1490.68 2581.96L1497.53 2564.16L1504.3 2546.36L1511 2528.56L1517.62 2510.76L1524.16 2492.97L1530.63 2475.17L1537.03 2457.37L1543.37 2439.57L1549.64 2421.77L1555.86 2403.97L1562.03 2386.17L1568.14 2368.37L1574.2 2350.58L1580.2 2332.78L1586.14 2314.98L1592.01 2297.18L1597.82 2279.38L1603.55 2261.58L1609.22 2243.78L1614.79 2225.98L1620.26 2208.19L1625.67 2190.39L1631.01 2172.59L1636.32 2154.79L1641.61 2136.99L1646.89 2119.19L1652.19 2101.39L1657.52 2083.59L1662.83 2065.8L1668.13 2048L1673.42 2030.2L1678.7 2012.4Z" fill="#00ff66" stroke="#00ff66" stroke-width="5.2" stroke-linejoin="round"/>
<path d="M1982.5 2012L1982.75 2029.8L1983.04 2047.61L1983.37 2065.41L1983.73 2083.22L1984.17 2101.02L1984.67 2118.82L1985.18 2136.63L1985.69 2154.43L1986.16 2172.23L1986.58 2190.04L1986.97 2207.84L1987.37 2225.65L1987.79 2243.45L1988.25 2261.25L1988.82 2279.06L1989.6 2296.86L1990.15 2314.66L1990.45 2332.47L1990.7 2350.27L1990.91 2368.08L1991.09 2385.88L1991.25 2403.68L1991.4 2421.49L1991.55 2439.29L1991.72 2457.09L1991.91 2474.9L1992.11 2492.7L1992.32 2510.51L1992.53 2528.31L1992.75 2546.11L1992.96 2563.92L1993.17 2581.72L1993.37 2599.53L1993.57 2617.33L1993.75 2635.13L1993.92 2652.94L1994.08 2670.74L1994.22 2688.54L1994.33 2706.35L1994.44 2724.15L1994.55 2741.96L1994.66 2759.76L1994.76 2777.56L1994.86 2795.37L1994.95 2813.17L1995.04 2830.97L1995.13 2848.78L1995.21 2866.58L1995.28 2884.39L1995.35 2902.19L1995.41 2919.99L1995.47 2937.8L1995.52 2955.6L1995.56 2973.41L1995.59 2991.21L1995.61 3009.01L1995.63 3026.82L1995.66 3044.62L1995.68 3062.42L1995.7 3080.23L1995.72 3098.03L1995.73 3115.84L1995.75 3133.64L1995.77 3151.44L1995.78 3169.25L1995.8 3187.05L1995.81 3204.85L1995.83 3222.66L1995.84 3240.46L1995.85 3258.27L1995.86 3276.07L1995.87 3293.87L1995.88 3311.68L1995.88 3329.48L1995.89 3347.28L1995.89 3365.09L1995.9 3382.89L1995.9 3400.7L1995.9 3418.5L2001.3 3418.5L2001.3 3400.7L2001.3 3382.89L2001.29 3365.09L2001.29 3347.28L2001.28 3329.48L2001.28 3311.68L2001.27 3293.87L2001.26 3276.07L2001.25 3258.27L2001.24 3240.46L2001.23 3222.66L2001.21 3204.85L2001.2 3187.05L2001.18 3169.25L2001.17 3151.44L2001.15 3133.64L2001.13 3115.84L2001.12 3098.03L2001.1 3080.23L2001.08 3062.42L2001.06 3044.62L2001.03 3026.82L2001.01 3009.01L2000.99 2991.21L2000.96 2973.41L2000.92 2955.6L2000.87 2937.8L2000.81 2919.99L2000.75 2902.19L2000.68 2884.39L2000.61 2866.58L2000.53 2848.78L2000.44 2830.97L2000.35 2813.17L2000.26 2795.37L2000.16 2777.56L2000.06 2759.76L1999.95 2741.96L1999.84 2724.15L1999.73 2706.35L1999.62 2688.54L1999.48 2670.74L1999.32 2652.94L1999.15 2635.13L1998.97 2617.33L1998.77 2599.53L1998.57 2581.72L1998.36 2563.92L1998.15 2546.11L1997.93 2528.31L1997.72 2510.51L1997.51 2492.7L1997.31 2474.9L1997.12 2457.09L1996.95 2439.29L1996.8 2421.49L1996.65 2403.68L1996.49 2385.88L1996.31 2368.08L1996.1 2350.27L1995.85 2332.47L1995.55 2314.66L1995 2296.86L1994.22 2279.06L1993.65 2261.25L1993.19 2243.45L1992.77 2225.65L1992.37 2207.84L1991.98 2190.04L1991.56 2172.23L1991.09 2154.43L1990.58 2136.63L1990.07 2118.82L1989.57 2101.02L1989.13 2083.22L1988.77 2065.41L1988.44 2047.61L1988.15 2029.8L1987.9 2012Z" fill="#00ff66" stroke="#00ff66" stroke-width="5.2" stroke-linejoin="round"/>
<clipPath id="clb"><rect x="0" y="2772.5" width="1698.2" height="3000"/></clipPath>
<path clip-path="url(#clb)" d="M1700.99 2763L1693.94 2771.3L1686.91 2779.59L1679.91 2787.89L1672.94 2796.19L1666 2804.49L1659.1 2812.78L1652.23 2821.08L1645.41 2829.38L1638.62 2837.68L1631.88 2845.97L1625.19 2854.27L1618.54 2862.57L1611.95 2870.87L1605.41 2879.16L1598.94 2887.46L1592.53 2895.76L1586.16 2904.06L1579.85 2912.35L1573.57 2920.65L1567.32 2928.95L1561.1 2937.25L1554.91 2945.54L1548.72 2953.84L1542.54 2962.14L1536.36 2970.44L1530.18 2978.73L1523.98 2987.03L1517.77 2995.33L1511.53 3003.63L1505.26 3011.92L1498.95 3020.22L1492.6 3028.52L1486.24 3036.82L1479.88 3045.11L1473.53 3053.41L1467.18 3061.71L1460.84 3070.01L1454.48 3078.3L1448.12 3086.6L1441.74 3094.9L1435.34 3103.2L1428.93 3111.49L1422.49 3119.79L1416.02 3128.09L1409.52 3136.39L1402.98 3144.68L1396.41 3152.98L1389.79 3161.28L1383.12 3169.58L1376.4 3177.87L1369.62 3186.17L1362.8 3194.47L1355.92 3202.77L1349 3211.06L1342.04 3219.36L1335.04 3227.66L1327.99 3235.96L1320.91 3244.25L1313.8 3252.55L1306.64 3260.85L1299.46 3269.15L1292.25 3277.44L1285.01 3285.74L1277.74 3294.04L1270.45 3302.34L1263.14 3310.63L1255.8 3318.93L1248.45 3327.23L1241.08 3335.53L1233.69 3343.82L1226.26 3352.12L1218.77 3360.42L1211.24 3368.72L1203.67 3377.01L1196.06 3385.31L1188.41 3393.61L1180.73 3401.91L1173.03 3410.2L1165.3 3418.5L1170.7 3418.5L1178.43 3410.2L1186.13 3401.91L1193.81 3393.61L1201.46 3385.31L1209.07 3377.01L1216.64 3368.72L1224.17 3360.42L1231.66 3352.12L1239.09 3343.82L1246.48 3335.53L1253.85 3327.23L1261.2 3318.93L1268.54 3310.63L1275.85 3302.34L1283.14 3294.04L1290.41 3285.74L1297.65 3277.44L1304.86 3269.15L1312.04 3260.85L1319.2 3252.55L1326.31 3244.25L1333.39 3235.96L1340.44 3227.66L1347.44 3219.36L1354.4 3211.06L1361.32 3202.77L1368.2 3194.47L1375.02 3186.17L1381.8 3177.87L1388.52 3169.58L1395.19 3161.28L1401.81 3152.98L1408.38 3144.68L1414.92 3136.39L1421.42 3128.09L1427.89 3119.79L1434.33 3111.49L1440.74 3103.2L1447.14 3094.9L1453.52 3086.6L1459.88 3078.3L1466.24 3070.01L1472.58 3061.71L1478.93 3053.41L1485.28 3045.11L1491.64 3036.82L1498 3028.52L1504.35 3020.22L1510.66 3011.92L1516.93 3003.63L1523.17 2995.33L1529.38 2987.03L1535.58 2978.73L1541.76 2970.44L1547.94 2962.14L1554.12 2953.84L1560.31 2945.54L1566.5 2937.25L1572.72 2928.95L1578.97 2920.65L1585.25 2912.35L1591.56 2904.06L1597.93 2895.76L1604.34 2887.46L1610.81 2879.16L1617.35 2870.87L1623.94 2862.57L1630.59 2854.27L1637.28 2845.97L1644.02 2837.68L1650.81 2829.38L1657.63 2821.08L1664.5 2812.78L1671.4 2804.49L1678.34 2796.19L1685.31 2787.89L1692.31 2779.59L1699.34 2771.3L1706.39 2763Z" fill="#0000ff" stroke="#0000ff" stroke-width="5.2" stroke-linejoin="round"/>
<clipPath id="crb"><rect x="0" y="2771" width="3000" height="3000"/></clipPath>
<path clip-path="url(#crb)" d="M1874.43 2764L1877.43 2772.28L1881.02 2780.57L1884.13 2788.85L1887.15 2797.14L1890.09 2805.42L1892.94 2813.71L1895.7 2821.99L1898.37 2830.28L1900.95 2838.56L1903.45 2846.85L1905.85 2855.13L1908.16 2863.42L1910.37 2871.7L1912.49 2879.99L1914.52 2888.27L1916.46 2896.56L1918.34 2904.84L1920.18 2913.13L1921.97 2921.41L1923.72 2929.7L1925.43 2937.98L1927.09 2946.27L1928.71 2954.55L1930.29 2962.84L1931.83 2971.12L1933.34 2979.41L1934.8 2987.69L1936.23 2995.97L1937.63 3004.26L1938.99 3012.54L1940.31 3020.83L1941.61 3029.11L1942.87 3037.4L1944.11 3045.68L1945.32 3053.97L1946.5 3062.25L1947.65 3070.54L1948.77 3078.82L1949.88 3087.11L1950.95 3095.39L1952.01 3103.68L1953.04 3111.96L1954.05 3120.25L1955.03 3128.53L1956 3136.82L1956.94 3145.1L1957.86 3153.39L1958.76 3161.67L1959.65 3169.96L1960.51 3178.24L1961.36 3186.53L1962.19 3194.81L1963 3203.09L1963.79 3211.38L1964.57 3219.66L1965.33 3227.95L1966.09 3236.23L1966.84 3244.52L1967.58 3252.8L1968.32 3261.09L1969.04 3269.37L1969.75 3277.66L1970.45 3285.94L1971.15 3294.23L1971.83 3302.51L1972.49 3310.8L1973.15 3319.08L1973.79 3327.37L1974.42 3335.65L1975.04 3343.94L1975.64 3352.22L1976.23 3360.51L1976.8 3368.79L1977.36 3377.08L1977.9 3385.36L1978.43 3393.65L1978.93 3401.93L1979.43 3410.22L1979.9 3418.5L1985.3 3418.5L1984.83 3410.22L1984.33 3401.93L1983.83 3393.65L1983.3 3385.36L1982.76 3377.08L1982.2 3368.79L1981.63 3360.51L1981.04 3352.22L1980.44 3343.94L1979.82 3335.65L1979.19 3327.37L1978.55 3319.08L1977.89 3310.8L1977.23 3302.51L1976.55 3294.23L1975.85 3285.94L1975.15 3277.66L1974.44 3269.37L1973.72 3261.09L1972.98 3252.8L1972.24 3244.52L1971.49 3236.23L1970.73 3227.95L1969.97 3219.66L1969.19 3211.38L1968.4 3203.09L1967.59 3194.81L1966.76 3186.53L1965.91 3178.24L1965.05 3169.96L1964.16 3161.67L1963.26 3153.39L1962.34 3145.1L1961.4 3136.82L1960.43 3128.53L1959.45 3120.25L1958.44 3111.96L1957.41 3103.68L1956.35 3095.39L1955.28 3087.11L1954.17 3078.82L1953.05 3070.54L1951.9 3062.25L1950.72 3053.97L1949.51 3045.68L1948.27 3037.4L1947.01 3029.11L1945.71 3020.83L1944.39 3012.54L1943.03 3004.26L1941.63 2995.97L1940.2 2987.69L1938.74 2979.41L1937.23 2971.12L1935.69 2962.84L1934.11 2954.55L1932.49 2946.27L1930.83 2937.98L1929.12 2929.7L1927.37 2921.41L1925.58 2913.13L1923.74 2904.84L1921.86 2896.56L1919.92 2888.27L1917.89 2879.99L1915.77 2871.7L1913.56 2863.42L1911.25 2855.13L1908.85 2846.85L1906.35 2838.56L1903.77 2830.28L1901.1 2821.99L1898.34 2813.71L1895.49 2805.42L1892.55 2797.14L1889.53 2788.85L1886.42 2780.57L1882.83 2772.28L1879.83 2764Z" fill="#0000ff" stroke="#0000ff" stroke-width="5.2" stroke-linejoin="round"/>
</g>
<polygon points="425.26,3061.72 435.18,3092.26 467.3,3092.26 441.32,3111.14 451.24,3141.68 425.26,3122.81 399.28,3141.68 409.2,3111.14 383.22,3092.26 415.34,3092.26" fill="rgba(0,240,95,0.7)"/>
<polygon points="599.92,3061.72 609.84,3092.26 641.96,3092.26 615.98,3111.14 625.9,3141.68 599.92,3122.81 573.94,3141.68 583.86,3111.14 557.88,3092.26 590,3092.26" fill="rgba(0,240,95,0.7)"/>
<polygon points="774.58,2124.59 784.5,2155.13 816.62,2155.13 790.64,2174.01 800.56,2204.55 774.58,2185.67 748.6,2204.55 758.52,2174.01 732.54,2155.13 764.66,2155.13" fill="rgba(0,240,95,0.7)"/>
<polygon points="774.58,2280.78 784.5,2311.32 816.62,2311.32 790.64,2330.2 800.56,2360.74 774.58,2341.86 748.6,2360.74 758.52,2330.2 732.54,2311.32 764.66,2311.32" fill="rgba(0,240,95,0.7)"/>
<polygon points="774.58,2436.97 784.5,2467.51 816.62,2467.51 790.64,2486.38 800.56,2516.93 774.58,2498.05 748.6,2516.93 758.52,2486.38 732.54,2467.51 764.66,2467.51" fill="rgba(0,240,95,0.7)"/>
<polygon points="774.58,2593.16 784.5,2623.7 816.62,2623.7 790.64,2642.57 800.56,2673.11 774.58,2654.24 748.6,2673.11 758.52,2642.57 732.54,2623.7 764.66,2623.7" fill="rgba(0,240,95,0.7)"/>
<polygon points="774.58,2749.34 784.5,2779.88 816.62,2779.89 790.64,2798.76 800.56,2829.3 774.58,2810.43 748.6,2829.3 758.52,2798.76 732.54,2779.89 764.66,2779.88" fill="rgba(0,240,95,0.7)"/>
<rect x="748.78" y="2923.63" width="51.6" height="51.6" fill="rgba(0,240,95,0.7)"/>
<rect x="748.78" y="3079.82" width="51.6" height="51.6" fill="rgba(0,240,95,0.7)"/>
<rect x="748.78" y="3236.01" width="51.6" height="51.6" fill="rgba(0,240,95,0.7)"/>
<polygon points="1123.9,2124.59 1133.82,2155.13 1165.94,2155.13 1139.96,2174.01 1149.88,2204.55 1123.9,2185.67 1097.92,2204.55 1107.84,2174.01 1081.86,2155.13 1113.98,2155.13" fill="rgba(0,240,95,0.7)"/>
<polygon points="1123.9,2280.78 1133.82,2311.32 1165.94,2311.32 1139.96,2330.2 1149.88,2360.74 1123.9,2341.86 1097.92,2360.74 1107.84,2330.2 1081.86,2311.32 1113.98,2311.32" fill="rgba(0,240,95,0.7)"/>
<polygon points="1123.9,2436.97 1133.82,2467.51 1165.94,2467.51 1139.96,2486.38 1149.88,2516.93 1123.9,2498.05 1097.92,2516.93 1107.84,2486.38 1081.86,2467.51 1113.98,2467.51" fill="rgba(0,240,95,0.7)"/>
<rect x="1098.1" y="2611.26" width="51.6" height="51.6" fill="rgba(0,240,95,0.7)"/>
<rect x="1098.1" y="2767.44" width="51.6" height="51.6" fill="rgba(0,240,95,0.7)"/>
<rect x="1098.1" y="2923.63" width="51.6" height="51.6" fill="rgba(0,240,95,0.7)"/>
<rect x="1098.1" y="3079.82" width="51.6" height="51.6" fill="rgba(0,240,95,0.7)"/>
<rect x="1098.1" y="3236.01" width="51.6" height="51.6" fill="rgba(0,240,95,0.7)"/>
<rect x="1447.42" y="3236.01" width="51.6" height="51.6" fill="rgba(0,240,95,0.7)"/>
<rect x="1447.42" y="3079.82" width="51.6" height="51.6" fill="rgba(0,240,95,0.7)"/>
<rect x="1447.42" y="2923.63" width="51.6" height="51.6" fill="rgba(0,240,95,0.7)"/>
<rect x="1447.42" y="2767.44" width="51.6" height="51.6" fill="rgba(0,240,95,0.7)"/>
<rect x="1447.42" y="2611.26" width="51.6" height="51.6" fill="rgba(0,240,95,0.7)"/>
<rect x="1447.42" y="2455.07" width="51.6" height="51.6" fill="rgba(0,240,95,0.7)"/>
<rect x="1447.42" y="2298.88" width="51.6" height="51.6" fill="rgba(0,240,95,0.7)"/>
<rect x="1447.42" y="2142.69" width="51.6" height="51.6" fill="rgba(0,240,95,0.7)"/>
<polygon points="425.86,3090.92 429.47,3100.95 440.13,3101.29 431.71,3107.82 434.68,3118.06 425.86,3112.07 417.04,3118.06 420.01,3107.82 411.59,3101.29 422.25,3100.95" fill="#fff" stroke="#0000ff" stroke-width="3.7"/>
<polygon points="600.52,3090.92 604.13,3100.95 614.79,3101.29 606.37,3107.82 609.34,3118.06 600.52,3112.07 591.7,3118.06 594.67,3107.82 586.25,3101.29 596.91,3100.95" fill="#fff" stroke="#0000ff" stroke-width="3.7"/>
<polygon points="775.18,2153.79 778.79,2163.81 789.45,2164.15 781.03,2170.69 784,2180.92 775.18,2174.94 766.36,2180.92 769.33,2170.69 760.91,2164.15 771.57,2163.81" fill="#fff" stroke="#0000ff" stroke-width="3.7"/>
<polygon points="775.18,2309.98 778.79,2320 789.45,2320.34 781.03,2326.88 784,2337.11 775.18,2331.13 766.36,2337.11 769.33,2326.88 760.91,2320.34 771.57,2320" fill="#fff" stroke="#0000ff" stroke-width="3.7"/>
<polygon points="775.18,2466.17 778.79,2476.19 789.45,2476.53 781.03,2483.07 784,2493.3 775.18,2487.32 766.36,2493.3 769.33,2483.07 760.91,2476.53 771.57,2476.19" fill="#fff" stroke="#0000ff" stroke-width="3.7"/>
<polygon points="775.18,2622.36 778.79,2632.38 789.45,2632.72 781.03,2639.26 784,2649.49 775.18,2643.51 766.36,2649.49 769.33,2639.26 760.91,2632.72 771.57,2632.38" fill="#fff" stroke="#0000ff" stroke-width="3.7"/>
<rect x="763.58" y="2782.04" width="22" height="22" fill="#fff" stroke="#0000ff" stroke-width="7.8"/>
<rect x="763.58" y="2938.23" width="22" height="22" fill="#fff" stroke="#0000ff" stroke-width="7.8"/>
<rect x="763.58" y="3094.42" width="22" height="22" fill="#fff" stroke="#0000ff" stroke-width="7.8"/>
<rect x="763.58" y="3250.61" width="22" height="22" fill="#fff" stroke="#0000ff" stroke-width="7.8"/>
<rect x="1112.9" y="3250.61" width="22" height="22" fill="#fff" stroke="#0000ff" stroke-width="7.8"/>
<rect x="1112.9" y="3094.42" width="22" height="22" fill="#fff" stroke="#0000ff" stroke-width="7.8"/>
<rect x="1112.9" y="2938.23" width="22" height="22" fill="#fff" stroke="#0000ff" stroke-width="7.8"/>
<rect x="1112.9" y="2782.04" width="22" height="22" fill="#fff" stroke="#0000ff" stroke-width="7.8"/>
<rect x="1112.9" y="2625.86" width="22" height="22" fill="#fff" stroke="#0000ff" stroke-width="7.8"/>
<rect x="1112.9" y="2469.67" width="22" height="22" fill="#fff" stroke="#0000ff" stroke-width="7.8"/>
<rect x="1112.9" y="2313.48" width="22" height="22" fill="#fff" stroke="#0000ff" stroke-width="7.8"/>
<rect x="1112.9" y="2157.29" width="22" height="22" fill="#fff" stroke="#0000ff" stroke-width="7.8"/>
<rect x="1462.22" y="3250.61" width="22" height="22" fill="#fff" stroke="#0000ff" stroke-width="7.8"/>
<rect x="1462.22" y="3094.42" width="22" height="22" fill="#fff" stroke="#0000ff" stroke-width="7.8"/>
<rect x="1462.22" y="2938.23" width="22" height="22" fill="#fff" stroke="#0000ff" stroke-width="7.8"/>
<rect x="1462.22" y="2782.04" width="22" height="22" fill="#fff" stroke="#0000ff" stroke-width="7.8"/>
<rect x="1462.22" y="2625.86" width="22" height="22" fill="#fff" stroke="#0000ff" stroke-width="7.8"/>
<rect x="1462.22" y="2469.67" width="22" height="22" fill="#fff" stroke="#0000ff" stroke-width="7.8"/>
<rect x="1462.22" y="2313.48" width="22" height="22" fill="#fff" stroke="#0000ff" stroke-width="7.8"/>
<rect x="1462.22" y="2157.29" width="22" height="22" fill="#fff" stroke="#0000ff" stroke-width="7.8"/>
<g font-family="'Liberation Sans', Arial, sans-serif" font-size="57.4" fill="#000" stroke="#000" stroke-width="0.5">
<text transform="translate(220 3434.6) scale(1 1.06)" text-anchor="end">70</text>
<text transform="translate(220 3278.41) scale(1 1.06)" text-anchor="end">80</text>
<text transform="translate(220 3122.22) scale(1 1.06)" text-anchor="end">90</text>
<text transform="translate(220 2966.03) scale(1 1.06)" text-anchor="end">100</text>
<text transform="translate(220 2809.84) scale(1 1.06)" text-anchor="end">110</text>
<text transform="translate(220 2653.66) scale(1 1.06)" text-anchor="end">120</text>
<text transform="translate(220 2497.47) scale(1 1.06)" text-anchor="end">130</text>
<text transform="translate(220 2341.28) scale(1 1.06)" text-anchor="end">140</text>
<text transform="translate(220 2185.09) scale(1 1.06)" text-anchor="end">150</text>
<text transform="translate(220 2028.9) scale(1 1.06)" text-anchor="end">160</text>
<text transform="translate(250.8 3494) scale(1 1.06)" text-anchor="middle">0</text>
<text transform="translate(425.36 3494) scale(1 1.06)" text-anchor="middle">10</text>
<text transform="translate(599.92 3494) scale(1 1.06)" text-anchor="middle">20</text>
<text transform="translate(774.48 3494) scale(1 1.06)" text-anchor="middle">30</text>
<text transform="translate(949.04 3494) scale(1 1.06)" text-anchor="middle">40</text>
<text transform="translate(1123.6 3494) scale(1 1.06)" text-anchor="middle">50</text>
<text transform="translate(1298.16 3494) scale(1 1.06)" text-anchor="middle">60</text>
<text transform="translate(1472.72 3494) scale(1 1.06)" text-anchor="middle">70</text>
<text transform="translate(1647.28 3494) scale(1 1.06)" text-anchor="middle">80</text>
<text transform="translate(1821.84 3494) scale(1 1.06)" text-anchor="middle">90</text>
<text transform="translate(1996.4 3494) scale(1 1.06)" text-anchor="middle">100</text>
</g>
<g font-family="'Liberation Sans', Arial, sans-serif" font-weight="bold" font-size="73.5" fill="#000">
<text transform="translate(1124 3600) scale(1 1.04)" text-anchor="middle">IBU (wt. %)</text>
<text transform="translate(68.8 2715.45) rotate(-90) scale(1 1.04)" text-anchor="middle">Temperature (°C)</text>
</g>
<g font-family="'Liberation Sans', Arial, sans-serif" fill="#000">
<text transform="translate(297.6 2082.5) scale(1 0.98)" font-size="61"><tspan stroke="#000" stroke-width="0.9">(b)</tspan></text>
<text transform="translate(403.5 2082.5) scale(1 1.02)" font-size="54.6" font-weight="bold">PDLG</text>
<text transform="translate(572 2082.5) scale(1 1.02)" font-size="54.6" font-weight="bold"><tspan fill="#0000ff">7502A</tspan>/<tspan fill="#00f070">7504A</tspan></text>
</g>
<polygon points="351.6,2160 354.88,2169.09 364.53,2169.4 356.9,2175.32 359.59,2184.6 351.6,2179.18 343.61,2184.6 346.3,2175.32 338.67,2169.4 348.32,2169.09" fill="#fff" stroke="#0000ff" stroke-width="3.8"/>
<polygon points="451.59,2146.1 457.81,2165.24 477.94,2165.24 461.66,2177.07 467.88,2196.21 451.59,2184.38 435.31,2196.21 441.53,2177.07 425.25,2165.24 445.37,2165.24" fill="#4cf38f"/>
<rect x="340.6" y="2228.17" width="22" height="24.4" fill="#fff" stroke="#0000ff" stroke-width="7.6"/>
<rect x="428.88" y="2218.82" width="46.2" height="46.2" fill="#4cf38f"/>
<g font-family="'Liberation Sans', Arial, sans-serif" font-weight="bold" font-size="44.6" fill="#000">
<text transform="translate(505.03 2189.26) scale(1 1)">1 <tspan font-style="italic">T</tspan><tspan font-size="29.44" dy="11.6">g</tspan></text>
<text transform="translate(505.03 2255.57) scale(1 1)">2 <tspan font-style="italic">T</tspan><tspan font-size="29.44" dy="11.6">g</tspan></text>
<text transform="translate(301.07 2377.83) scale(1 1)">LLE PC-SAFT</text>
<text transform="translate(301.07 2434.46) scale(1 1)" font-size="44.24">(<tspan font-style="italic">k</tspan><tspan font-size="27.65" font-weight="normal" dy="11.6" dx="1.5" letter-spacing="1.5">ij</tspan><tspan dy="-11.6" dx="1.5">s optimized):</tspan></text>
<text transform="translate(414.52 2501.73) scale(1 1)">PDLG 7502A</text>
<text transform="translate(414.52 2559.81) scale(1 1)">PDLG 7504A</text>
</g>
<rect x="303.42" y="2463.62" width="97.72" height="47.58" fill="#b0e2f8" stroke="#0000ff" stroke-width="7.6"/>
<rect x="303.42" y="2521.31" width="97.72" height="47.58" fill="#e6fff0" stroke="#00ff00" stroke-width="7.6"/>
</g>
</g>
</svg>
</body></html>
